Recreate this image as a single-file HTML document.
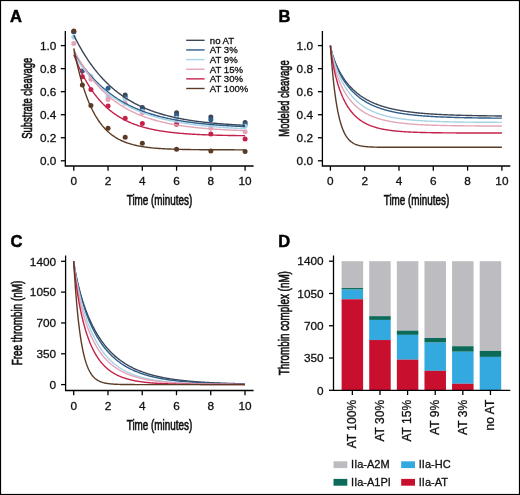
<!DOCTYPE html>
<html><head><meta charset="utf-8"><style>
html,body{margin:0;padding:0;background:#fff;}
body{width:520px;height:495px;overflow:hidden;}
svg{display:block;will-change:transform;}
text{font-family:"Liberation Sans", sans-serif;fill:#111;stroke:#111;stroke-width:0.3px;}
.tl{font-size:11.8px;}
.tt{font-size:14.2px;stroke-width:0.65px;}
.pl{font-size:16.5px;font-weight:bold;fill:#000;stroke:#000;stroke-width:0.5px;}
.lg{font-size:9.6px;}
.lg2{font-size:11px;}
</style></head><body>
<svg width="520" height="495" viewBox="0 0 520 495">
<rect x="0" y="0" width="520" height="495" fill="#fff"/>
<text x="10" y="22.2" class="pl">A</text>
<path d="M65.3,31 V166 H253.6" fill="none" stroke="#000" stroke-width="1.3"/>
<line x1="60.80" y1="160.80" x2="65.3" y2="160.80" stroke="#000" stroke-width="1.3"/>
<text x="56.40" y="165.00" text-anchor="end" class="tl">0.0</text>
<line x1="60.80" y1="137.76" x2="65.3" y2="137.76" stroke="#000" stroke-width="1.3"/>
<text x="56.40" y="141.96" text-anchor="end" class="tl">0.2</text>
<line x1="60.80" y1="114.72" x2="65.3" y2="114.72" stroke="#000" stroke-width="1.3"/>
<text x="56.40" y="118.92" text-anchor="end" class="tl">0.4</text>
<line x1="60.80" y1="91.68" x2="65.3" y2="91.68" stroke="#000" stroke-width="1.3"/>
<text x="56.40" y="95.88" text-anchor="end" class="tl">0.6</text>
<line x1="60.80" y1="68.64" x2="65.3" y2="68.64" stroke="#000" stroke-width="1.3"/>
<text x="56.40" y="72.84" text-anchor="end" class="tl">0.8</text>
<line x1="60.80" y1="45.60" x2="65.3" y2="45.60" stroke="#000" stroke-width="1.3"/>
<text x="56.40" y="49.80" text-anchor="end" class="tl">1.0</text>
<line x1="73.80" y1="166" x2="73.80" y2="170.70" stroke="#000" stroke-width="1.3"/>
<text x="73.80" y="185.20" text-anchor="middle" class="tl">0</text>
<line x1="108.06" y1="166" x2="108.06" y2="170.70" stroke="#000" stroke-width="1.3"/>
<text x="108.06" y="185.20" text-anchor="middle" class="tl">2</text>
<line x1="142.32" y1="166" x2="142.32" y2="170.70" stroke="#000" stroke-width="1.3"/>
<text x="142.32" y="185.20" text-anchor="middle" class="tl">4</text>
<line x1="176.58" y1="166" x2="176.58" y2="170.70" stroke="#000" stroke-width="1.3"/>
<text x="176.58" y="185.20" text-anchor="middle" class="tl">6</text>
<line x1="210.84" y1="166" x2="210.84" y2="170.70" stroke="#000" stroke-width="1.3"/>
<text x="210.84" y="185.20" text-anchor="middle" class="tl">8</text>
<line x1="245.10" y1="166" x2="245.10" y2="170.70" stroke="#000" stroke-width="1.3"/>
<text x="245.10" y="185.20" text-anchor="middle" class="tl">10</text>
<text transform="translate(32.00,98.30) rotate(-90)" text-anchor="middle" class="tt" textLength="81" lengthAdjust="spacingAndGlyphs">Substrate cleavage</text>
<text x="159.50" y="205.40" text-anchor="middle" class="tt" textLength="65.5" lengthAdjust="spacingAndGlyphs">Time (minutes)</text>
<circle cx="73.80" cy="31.78" r="2.5" fill="#3c4658"/>
<circle cx="125.19" cy="94.91" r="2.5" fill="#3c4658"/>
<circle cx="142.32" cy="107.58" r="2.5" fill="#3c4658"/>
<circle cx="176.58" cy="112.65" r="2.5" fill="#3c4658"/>
<circle cx="210.84" cy="117.02" r="2.5" fill="#3c4658"/>
<circle cx="245.10" cy="122.55" r="2.5" fill="#3c4658"/>
<circle cx="73.80" cy="31.78" r="2.5" fill="#2d5d88"/>
<circle cx="82.36" cy="70.94" r="2.5" fill="#2d5d88"/>
<circle cx="108.06" cy="88.22" r="2.5" fill="#2d5d88"/>
<circle cx="125.19" cy="97.44" r="2.5" fill="#2d5d88"/>
<circle cx="142.32" cy="108.96" r="2.5" fill="#2d5d88"/>
<circle cx="176.58" cy="115.18" r="2.5" fill="#2d5d88"/>
<circle cx="210.84" cy="119.79" r="2.5" fill="#2d5d88"/>
<circle cx="245.10" cy="124.51" r="2.5" fill="#2d5d88"/>
<circle cx="73.80" cy="36.96" r="2.5" fill="#a6d3e6"/>
<circle cx="90.93" cy="76.13" r="2.5" fill="#a6d3e6"/>
<circle cx="108.06" cy="96.75" r="2.5" fill="#a6d3e6"/>
<circle cx="125.19" cy="99.17" r="2.5" fill="#a6d3e6"/>
<circle cx="142.32" cy="111.49" r="2.5" fill="#a6d3e6"/>
<circle cx="176.58" cy="118.18" r="2.5" fill="#a6d3e6"/>
<circle cx="210.84" cy="125.55" r="2.5" fill="#a6d3e6"/>
<circle cx="245.10" cy="126.24" r="2.5" fill="#a6d3e6"/>
<circle cx="73.80" cy="43.41" r="2.5" fill="#e3a5b8"/>
<circle cx="90.93" cy="79.35" r="2.5" fill="#e3a5b8"/>
<circle cx="108.06" cy="99.40" r="2.5" fill="#e3a5b8"/>
<circle cx="125.19" cy="103.20" r="2.5" fill="#e3a5b8"/>
<circle cx="142.32" cy="112.65" r="2.5" fill="#e3a5b8"/>
<circle cx="176.58" cy="122.78" r="2.5" fill="#e3a5b8"/>
<circle cx="210.84" cy="128.31" r="2.5" fill="#e3a5b8"/>
<circle cx="245.10" cy="131.77" r="2.5" fill="#e3a5b8"/>
<circle cx="82.36" cy="76.70" r="2.5" fill="#c4224a"/>
<circle cx="90.93" cy="89.38" r="2.5" fill="#c4224a"/>
<circle cx="108.06" cy="106.08" r="2.5" fill="#c4224a"/>
<circle cx="125.19" cy="118.18" r="2.5" fill="#c4224a"/>
<circle cx="142.32" cy="123.59" r="2.5" fill="#c4224a"/>
<circle cx="176.58" cy="124.17" r="2.5" fill="#c4224a"/>
<circle cx="210.84" cy="133.96" r="2.5" fill="#c4224a"/>
<circle cx="245.10" cy="138.91" r="2.5" fill="#c4224a"/>
<circle cx="73.80" cy="30.97" r="2.5" fill="#5a3c26"/>
<circle cx="82.36" cy="85.11" r="2.5" fill="#5a3c26"/>
<circle cx="90.93" cy="105.62" r="2.5" fill="#5a3c26"/>
<circle cx="108.06" cy="128.20" r="2.5" fill="#5a3c26"/>
<circle cx="125.19" cy="137.30" r="2.5" fill="#5a3c26"/>
<circle cx="142.32" cy="143.29" r="2.5" fill="#5a3c26"/>
<circle cx="176.58" cy="149.28" r="2.5" fill="#5a3c26"/>
<circle cx="210.84" cy="150.89" r="2.5" fill="#5a3c26"/>
<circle cx="245.10" cy="151.58" r="2.5" fill="#5a3c26"/>
<path d="M73.80,35.23 L74.66,36.96 L75.51,38.65 L76.37,40.31 L77.23,41.94 L78.08,43.54 L78.94,45.11 L79.80,46.65 L80.65,48.16 L81.51,49.65 L82.36,51.10 L83.22,52.53 L84.08,53.93 L84.93,55.31 L85.79,56.66 L86.65,57.98 L87.50,59.28 L88.36,60.56 L89.22,61.81 L90.07,63.04 L90.93,64.24 L91.79,65.42 L92.64,66.58 L93.50,67.72 L94.36,68.84 L95.21,69.94 L96.07,71.01 L96.93,72.07 L97.78,73.10 L98.64,74.12 L99.50,75.12 L100.35,76.10 L101.21,77.06 L102.06,78.00 L102.92,78.92 L103.78,79.83 L104.63,80.72 L105.49,81.59 L106.35,82.45 L107.20,83.29 L108.06,84.12 L108.92,84.93 L109.77,85.72 L110.63,86.50 L111.49,87.27 L112.34,88.02 L113.20,88.76 L114.06,89.48 L114.91,90.19 L115.77,90.89 L116.62,91.57 L117.48,92.24 L118.34,92.90 L119.19,93.55 L120.05,94.18 L120.91,94.80 L121.76,95.41 L122.62,96.01 L123.48,96.60 L124.33,97.17 L125.19,97.74 L126.05,98.30 L126.90,98.84 L127.76,99.37 L128.62,99.90 L129.47,100.41 L130.33,100.92 L131.19,101.41 L132.04,101.90 L132.90,102.38 L133.75,102.85 L134.61,103.31 L135.47,103.76 L136.32,104.20 L137.18,104.63 L138.04,105.06 L138.89,105.48 L139.75,105.89 L140.61,106.29 L141.46,106.69 L142.32,107.07 L143.18,107.45 L144.03,107.83 L144.89,108.19 L145.75,108.55 L146.60,108.91 L147.46,109.25 L148.32,109.59 L149.17,109.92 L150.03,110.25 L150.88,110.57 L151.74,110.89 L152.60,111.20 L153.45,111.50 L154.31,111.80 L155.17,112.09 L156.02,112.38 L156.88,112.66 L157.74,112.93 L158.59,113.20 L159.45,113.47 L160.31,113.73 L161.16,113.99 L162.02,114.24 L162.88,114.48 L163.73,114.72 L164.59,114.96 L165.45,115.19 L166.30,115.42 L167.16,115.65 L168.01,115.87 L168.87,116.08 L169.73,116.29 L170.58,116.50 L171.44,116.71 L172.30,116.91 L173.15,117.10 L174.01,117.30 L174.87,117.48 L175.72,117.67 L176.58,117.85 L177.44,118.03 L178.29,118.21 L179.15,118.38 L180.01,118.55 L180.86,118.71 L181.72,118.87 L182.58,119.03 L183.43,119.19 L184.29,119.34 L185.14,119.49 L186.00,119.64 L186.86,119.79 L187.71,119.93 L188.57,120.07 L189.43,120.21 L190.28,120.34 L191.14,120.47 L192.00,120.60 L192.85,120.73 L193.71,120.85 L194.57,120.98 L195.42,121.10 L196.28,121.22 L197.14,121.33 L197.99,121.44 L198.85,121.56 L199.71,121.66 L200.56,121.77 L201.42,121.88 L202.27,121.98 L203.13,122.08 L203.99,122.18 L204.84,122.28 L205.70,122.37 L206.56,122.47 L207.41,122.56 L208.27,122.65 L209.13,122.74 L209.98,122.83 L210.84,122.91 L211.70,123.00 L212.55,123.08 L213.41,123.16 L214.27,123.24 L215.12,123.32 L215.98,123.39 L216.84,123.47 L217.69,123.54 L218.55,123.61 L219.40,123.68 L220.26,123.75 L221.12,123.82 L221.97,123.89 L222.83,123.95 L223.69,124.02 L224.54,124.08 L225.40,124.14 L226.26,124.20 L227.11,124.26 L227.97,124.32 L228.83,124.38 L229.68,124.44 L230.54,124.49 L231.40,124.55 L232.25,124.60 L233.11,124.65 L233.97,124.70 L234.82,124.75 L235.68,124.80 L236.53,124.85 L237.39,124.90 L238.25,124.95 L239.10,124.99 L239.96,125.04 L240.82,125.08 L241.67,125.12 L242.53,125.17 L243.39,125.21 L244.24,125.25 L245.10,125.29" fill="none" stroke="#3c4658" stroke-width="1.4"/>
<path d="M73.80,52.51 L74.66,53.90 L75.51,55.26 L76.37,56.59 L77.23,57.90 L78.08,59.19 L78.94,60.45 L79.80,61.69 L80.65,62.91 L81.51,64.10 L82.36,65.27 L83.22,66.43 L84.08,67.56 L84.93,68.67 L85.79,69.76 L86.65,70.83 L87.50,71.88 L88.36,72.91 L89.22,73.92 L90.07,74.92 L90.93,75.89 L91.79,76.85 L92.64,77.79 L93.50,78.72 L94.36,79.63 L95.21,80.52 L96.07,81.39 L96.93,82.25 L97.78,83.09 L98.64,83.92 L99.50,84.73 L100.35,85.53 L101.21,86.31 L102.06,87.08 L102.92,87.84 L103.78,88.58 L104.63,89.31 L105.49,90.02 L106.35,90.72 L107.20,91.41 L108.06,92.09 L108.92,92.75 L109.77,93.40 L110.63,94.04 L111.49,94.67 L112.34,95.29 L113.20,95.89 L114.06,96.49 L114.91,97.07 L115.77,97.64 L116.62,98.21 L117.48,98.76 L118.34,99.30 L119.19,99.83 L120.05,100.36 L120.91,100.87 L121.76,101.37 L122.62,101.87 L123.48,102.35 L124.33,102.83 L125.19,103.30 L126.05,103.76 L126.90,104.21 L127.76,104.65 L128.62,105.09 L129.47,105.51 L130.33,105.93 L131.19,106.35 L132.04,106.75 L132.90,107.15 L133.75,107.54 L134.61,107.92 L135.47,108.29 L136.32,108.66 L137.18,109.02 L138.04,109.38 L138.89,109.73 L139.75,110.07 L140.61,110.41 L141.46,110.74 L142.32,111.06 L143.18,111.38 L144.03,111.69 L144.89,112.00 L145.75,112.30 L146.60,112.60 L147.46,112.89 L148.32,113.17 L149.17,113.45 L150.03,113.73 L150.88,114.00 L151.74,114.26 L152.60,114.52 L153.45,114.78 L154.31,115.03 L155.17,115.27 L156.02,115.52 L156.88,115.75 L157.74,115.99 L158.59,116.21 L159.45,116.44 L160.31,116.66 L161.16,116.88 L162.02,117.09 L162.88,117.30 L163.73,117.50 L164.59,117.70 L165.45,117.90 L166.30,118.09 L167.16,118.28 L168.01,118.47 L168.87,118.65 L169.73,118.83 L170.58,119.01 L171.44,119.18 L172.30,119.35 L173.15,119.52 L174.01,119.69 L174.87,119.85 L175.72,120.01 L176.58,120.16 L177.44,120.31 L178.29,120.46 L179.15,120.61 L180.01,120.76 L180.86,120.90 L181.72,121.04 L182.58,121.17 L183.43,121.31 L184.29,121.44 L185.14,121.57 L186.00,121.70 L186.86,121.82 L187.71,121.94 L188.57,122.06 L189.43,122.18 L190.28,122.30 L191.14,122.41 L192.00,122.52 L192.85,122.63 L193.71,122.74 L194.57,122.85 L195.42,122.95 L196.28,123.05 L197.14,123.15 L197.99,123.25 L198.85,123.35 L199.71,123.44 L200.56,123.53 L201.42,123.62 L202.27,123.71 L203.13,123.80 L203.99,123.89 L204.84,123.97 L205.70,124.06 L206.56,124.14 L207.41,124.22 L208.27,124.30 L209.13,124.37 L209.98,124.45 L210.84,124.52 L211.70,124.60 L212.55,124.67 L213.41,124.74 L214.27,124.81 L215.12,124.88 L215.98,124.94 L216.84,125.01 L217.69,125.07 L218.55,125.14 L219.40,125.20 L220.26,125.26 L221.12,125.32 L221.97,125.38 L222.83,125.44 L223.69,125.49 L224.54,125.55 L225.40,125.60 L226.26,125.66 L227.11,125.71 L227.97,125.76 L228.83,125.81 L229.68,125.86 L230.54,125.91 L231.40,125.96 L232.25,126.00 L233.11,126.05 L233.97,126.10 L234.82,126.14 L235.68,126.18 L236.53,126.23 L237.39,126.27 L238.25,126.31 L239.10,126.35 L239.96,126.39 L240.82,126.43 L241.67,126.47 L242.53,126.51 L243.39,126.54 L244.24,126.58 L245.10,126.62" fill="none" stroke="#2d5d88" stroke-width="1.4"/>
<path d="M73.80,54.82 L74.66,56.16 L75.51,57.48 L76.37,58.78 L77.23,60.06 L78.08,61.31 L78.94,62.54 L79.80,63.75 L80.65,64.93 L81.51,66.10 L82.36,67.25 L83.22,68.37 L84.08,69.48 L84.93,70.56 L85.79,71.63 L86.65,72.68 L87.50,73.71 L88.36,74.72 L89.22,75.71 L90.07,76.68 L90.93,77.64 L91.79,78.58 L92.64,79.51 L93.50,80.42 L94.36,81.31 L95.21,82.19 L96.07,83.05 L96.93,83.89 L97.78,84.72 L98.64,85.54 L99.50,86.34 L100.35,87.13 L101.21,87.90 L102.06,88.66 L102.92,89.41 L103.78,90.14 L104.63,90.86 L105.49,91.57 L106.35,92.26 L107.20,92.95 L108.06,93.62 L108.92,94.28 L109.77,94.92 L110.63,95.56 L111.49,96.18 L112.34,96.80 L113.20,97.40 L114.06,97.99 L114.91,98.57 L115.77,99.14 L116.62,99.70 L117.48,100.25 L118.34,100.80 L119.19,101.33 L120.05,101.85 L120.91,102.36 L121.76,102.87 L122.62,103.36 L123.48,103.85 L124.33,104.33 L125.19,104.79 L126.05,105.26 L126.90,105.71 L127.76,106.15 L128.62,106.59 L129.47,107.02 L130.33,107.44 L131.19,107.85 L132.04,108.26 L132.90,108.66 L133.75,109.05 L134.61,109.44 L135.47,109.82 L136.32,110.19 L137.18,110.56 L138.04,110.91 L138.89,111.27 L139.75,111.61 L140.61,111.95 L141.46,112.29 L142.32,112.62 L143.18,112.94 L144.03,113.26 L144.89,113.57 L145.75,113.87 L146.60,114.17 L147.46,114.47 L148.32,114.76 L149.17,115.04 L150.03,115.32 L150.88,115.60 L151.74,115.87 L152.60,116.13 L153.45,116.39 L154.31,116.65 L155.17,116.90 L156.02,117.15 L156.88,117.39 L157.74,117.63 L158.59,117.86 L159.45,118.09 L160.31,118.32 L161.16,118.54 L162.02,118.76 L162.88,118.97 L163.73,119.18 L164.59,119.39 L165.45,119.59 L166.30,119.79 L167.16,119.98 L168.01,120.18 L168.87,120.36 L169.73,120.55 L170.58,120.73 L171.44,120.91 L172.30,121.09 L173.15,121.26 L174.01,121.43 L174.87,121.60 L175.72,121.76 L176.58,121.92 L177.44,122.08 L178.29,122.23 L179.15,122.39 L180.01,122.54 L180.86,122.68 L181.72,122.83 L182.58,122.97 L183.43,123.11 L184.29,123.25 L185.14,123.38 L186.00,123.51 L186.86,123.64 L187.71,123.77 L188.57,123.89 L189.43,124.02 L190.28,124.14 L191.14,124.26 L192.00,124.37 L192.85,124.49 L193.71,124.60 L194.57,124.71 L195.42,124.82 L196.28,124.93 L197.14,125.03 L197.99,125.13 L198.85,125.24 L199.71,125.33 L200.56,125.43 L201.42,125.53 L202.27,125.62 L203.13,125.71 L203.99,125.81 L204.84,125.89 L205.70,125.98 L206.56,126.07 L207.41,126.15 L208.27,126.24 L209.13,126.32 L209.98,126.40 L210.84,126.48 L211.70,126.55 L212.55,126.63 L213.41,126.70 L214.27,126.78 L215.12,126.85 L215.98,126.92 L216.84,126.99 L217.69,127.06 L218.55,127.13 L219.40,127.19 L220.26,127.26 L221.12,127.32 L221.97,127.38 L222.83,127.44 L223.69,127.50 L224.54,127.56 L225.40,127.62 L226.26,127.68 L227.11,127.73 L227.97,127.79 L228.83,127.84 L229.68,127.90 L230.54,127.95 L231.40,128.00 L232.25,128.05 L233.11,128.10 L233.97,128.15 L234.82,128.20 L235.68,128.24 L236.53,128.29 L237.39,128.33 L238.25,128.38 L239.10,128.42 L239.96,128.47 L240.82,128.51 L241.67,128.55 L242.53,128.59 L243.39,128.63 L244.24,128.67 L245.10,128.71" fill="none" stroke="#a6d3e6" stroke-width="1.4"/>
<path d="M73.80,49.75 L74.66,51.41 L75.51,53.05 L76.37,54.65 L77.23,56.22 L78.08,57.75 L78.94,59.26 L79.80,60.73 L80.65,62.17 L81.51,63.59 L82.36,64.98 L83.22,66.33 L84.08,67.67 L84.93,68.97 L85.79,70.25 L86.65,71.50 L87.50,72.72 L88.36,73.93 L89.22,75.10 L90.07,76.26 L90.93,77.39 L91.79,78.49 L92.64,79.58 L93.50,80.64 L94.36,81.68 L95.21,82.70 L96.07,83.70 L96.93,84.68 L97.78,85.64 L98.64,86.58 L99.50,87.50 L100.35,88.40 L101.21,89.28 L102.06,90.15 L102.92,91.00 L103.78,91.83 L104.63,92.64 L105.49,93.44 L106.35,94.22 L107.20,94.99 L108.06,95.74 L108.92,96.47 L109.77,97.19 L110.63,97.90 L111.49,98.59 L112.34,99.27 L113.20,99.93 L114.06,100.58 L114.91,101.22 L115.77,101.84 L116.62,102.45 L117.48,103.05 L118.34,103.64 L119.19,104.21 L120.05,104.77 L120.91,105.33 L121.76,105.87 L122.62,106.40 L123.48,106.92 L124.33,107.42 L125.19,107.92 L126.05,108.41 L126.90,108.89 L127.76,109.36 L128.62,109.82 L129.47,110.27 L130.33,110.71 L131.19,111.14 L132.04,111.56 L132.90,111.97 L133.75,112.38 L134.61,112.78 L135.47,113.17 L136.32,113.55 L137.18,113.92 L138.04,114.29 L138.89,114.65 L139.75,115.00 L140.61,115.34 L141.46,115.68 L142.32,116.01 L143.18,116.34 L144.03,116.65 L144.89,116.97 L145.75,117.27 L146.60,117.57 L147.46,117.86 L148.32,118.15 L149.17,118.43 L150.03,118.70 L150.88,118.97 L151.74,119.24 L152.60,119.50 L153.45,119.75 L154.31,120.00 L155.17,120.24 L156.02,120.48 L156.88,120.71 L157.74,120.94 L158.59,121.17 L159.45,121.38 L160.31,121.60 L161.16,121.81 L162.02,122.02 L162.88,122.22 L163.73,122.42 L164.59,122.61 L165.45,122.80 L166.30,122.99 L167.16,123.17 L168.01,123.35 L168.87,123.53 L169.73,123.70 L170.58,123.87 L171.44,124.03 L172.30,124.19 L173.15,124.35 L174.01,124.51 L174.87,124.66 L175.72,124.81 L176.58,124.95 L177.44,125.09 L178.29,125.23 L179.15,125.37 L180.01,125.51 L180.86,125.64 L181.72,125.77 L182.58,125.89 L183.43,126.02 L184.29,126.14 L185.14,126.26 L186.00,126.37 L186.86,126.49 L187.71,126.60 L188.57,126.71 L189.43,126.82 L190.28,126.92 L191.14,127.02 L192.00,127.12 L192.85,127.22 L193.71,127.32 L194.57,127.41 L195.42,127.51 L196.28,127.60 L197.14,127.69 L197.99,127.78 L198.85,127.86 L199.71,127.94 L200.56,128.03 L201.42,128.11 L202.27,128.19 L203.13,128.26 L203.99,128.34 L204.84,128.41 L205.70,128.49 L206.56,128.56 L207.41,128.63 L208.27,128.70 L209.13,128.76 L209.98,128.83 L210.84,128.89 L211.70,128.96 L212.55,129.02 L213.41,129.08 L214.27,129.14 L215.12,129.19 L215.98,129.25 L216.84,129.31 L217.69,129.36 L218.55,129.42 L219.40,129.47 L220.26,129.52 L221.12,129.57 L221.97,129.62 L222.83,129.67 L223.69,129.71 L224.54,129.76 L225.40,129.81 L226.26,129.85 L227.11,129.89 L227.97,129.94 L228.83,129.98 L229.68,130.02 L230.54,130.06 L231.40,130.10 L232.25,130.14 L233.11,130.18 L233.97,130.21 L234.82,130.25 L235.68,130.28 L236.53,130.32 L237.39,130.35 L238.25,130.39 L239.10,130.42 L239.96,130.45 L240.82,130.48 L241.67,130.51 L242.53,130.54 L243.39,130.57 L244.24,130.60 L245.10,130.63" fill="none" stroke="#e3a5b8" stroke-width="1.4"/>
<path d="M73.80,54.70 L74.66,56.89 L75.51,59.02 L76.37,61.10 L77.23,63.11 L78.08,65.08 L78.94,66.99 L79.80,68.85 L80.65,70.66 L81.51,72.42 L82.36,74.13 L83.22,75.80 L84.08,77.42 L84.93,79.00 L85.79,80.53 L86.65,82.03 L87.50,83.48 L88.36,84.90 L89.22,86.28 L90.07,87.62 L90.93,88.92 L91.79,90.19 L92.64,91.42 L93.50,92.62 L94.36,93.79 L95.21,94.93 L96.07,96.04 L96.93,97.12 L97.78,98.16 L98.64,99.18 L99.50,100.18 L100.35,101.14 L101.21,102.08 L102.06,102.99 L102.92,103.88 L103.78,104.75 L104.63,105.59 L105.49,106.41 L106.35,107.21 L107.20,107.99 L108.06,108.74 L108.92,109.48 L109.77,110.19 L110.63,110.89 L111.49,111.56 L112.34,112.22 L113.20,112.86 L114.06,113.49 L114.91,114.10 L115.77,114.69 L116.62,115.26 L117.48,115.82 L118.34,116.37 L119.19,116.89 L120.05,117.41 L120.91,117.91 L121.76,118.40 L122.62,118.87 L123.48,119.34 L124.33,119.79 L125.19,120.22 L126.05,120.65 L126.90,121.06 L127.76,121.47 L128.62,121.86 L129.47,122.24 L130.33,122.61 L131.19,122.97 L132.04,123.33 L132.90,123.67 L133.75,124.00 L134.61,124.32 L135.47,124.64 L136.32,124.95 L137.18,125.25 L138.04,125.54 L138.89,125.82 L139.75,126.09 L140.61,126.36 L141.46,126.62 L142.32,126.87 L143.18,127.12 L144.03,127.36 L144.89,127.59 L145.75,127.82 L146.60,128.04 L147.46,128.26 L148.32,128.47 L149.17,128.67 L150.03,128.87 L150.88,129.06 L151.74,129.25 L152.60,129.43 L153.45,129.61 L154.31,129.78 L155.17,129.95 L156.02,130.12 L156.88,130.27 L157.74,130.43 L158.59,130.58 L159.45,130.73 L160.31,130.87 L161.16,131.01 L162.02,131.14 L162.88,131.28 L163.73,131.40 L164.59,131.53 L165.45,131.65 L166.30,131.77 L167.16,131.88 L168.01,131.99 L168.87,132.10 L169.73,132.21 L170.58,132.31 L171.44,132.41 L172.30,132.51 L173.15,132.60 L174.01,132.70 L174.87,132.79 L175.72,132.87 L176.58,132.96 L177.44,133.04 L178.29,133.12 L179.15,133.20 L180.01,133.28 L180.86,133.35 L181.72,133.42 L182.58,133.49 L183.43,133.56 L184.29,133.63 L185.14,133.69 L186.00,133.76 L186.86,133.82 L187.71,133.88 L188.57,133.94 L189.43,133.99 L190.28,134.05 L191.14,134.10 L192.00,134.15 L192.85,134.20 L193.71,134.25 L194.57,134.30 L195.42,134.35 L196.28,134.39 L197.14,134.44 L197.99,134.48 L198.85,134.52 L199.71,134.56 L200.56,134.60 L201.42,134.64 L202.27,134.68 L203.13,134.71 L203.99,134.75 L204.84,134.78 L205.70,134.82 L206.56,134.85 L207.41,134.88 L208.27,134.91 L209.13,134.94 L209.98,134.97 L210.84,135.00 L211.70,135.03 L212.55,135.06 L213.41,135.08 L214.27,135.11 L215.12,135.13 L215.98,135.16 L216.84,135.18 L217.69,135.20 L218.55,135.23 L219.40,135.25 L220.26,135.27 L221.12,135.29 L221.97,135.31 L222.83,135.33 L223.69,135.35 L224.54,135.37 L225.40,135.38 L226.26,135.40 L227.11,135.42 L227.97,135.43 L228.83,135.45 L229.68,135.47 L230.54,135.48 L231.40,135.50 L232.25,135.51 L233.11,135.53 L233.97,135.54 L234.82,135.55 L235.68,135.56 L236.53,135.58 L237.39,135.59 L238.25,135.60 L239.10,135.61 L239.96,135.62 L240.82,135.64 L241.67,135.65 L242.53,135.66 L243.39,135.67 L244.24,135.68 L245.10,135.69" fill="none" stroke="#c4224a" stroke-width="1.4"/>
<path d="M73.80,48.48 L74.66,52.75 L75.51,56.84 L76.37,60.76 L77.23,64.52 L78.08,68.11 L78.94,71.56 L79.80,74.86 L80.65,78.02 L81.51,81.04 L82.36,83.94 L83.22,86.72 L84.08,89.38 L84.93,91.93 L85.79,94.37 L86.65,96.71 L87.50,98.95 L88.36,101.09 L89.22,103.15 L90.07,105.12 L90.93,107.00 L91.79,108.81 L92.64,110.54 L93.50,112.19 L94.36,113.78 L95.21,115.30 L96.07,116.76 L96.93,118.15 L97.78,119.49 L98.64,120.77 L99.50,121.99 L100.35,123.17 L101.21,124.29 L102.06,125.37 L102.92,126.40 L103.78,127.39 L104.63,128.33 L105.49,129.24 L106.35,130.11 L107.20,130.94 L108.06,131.74 L108.92,132.50 L109.77,133.23 L110.63,133.93 L111.49,134.61 L112.34,135.25 L113.20,135.86 L114.06,136.45 L114.91,137.02 L115.77,137.56 L116.62,138.08 L117.48,138.57 L118.34,139.05 L119.19,139.50 L120.05,139.94 L120.91,140.36 L121.76,140.76 L122.62,141.14 L123.48,141.51 L124.33,141.86 L125.19,142.20 L126.05,142.52 L126.90,142.83 L127.76,143.13 L128.62,143.41 L129.47,143.68 L130.33,143.94 L131.19,144.19 L132.04,144.43 L132.90,144.66 L133.75,144.88 L134.61,145.09 L135.47,145.29 L136.32,145.48 L137.18,145.66 L138.04,145.84 L138.89,146.01 L139.75,146.17 L140.61,146.33 L141.46,146.48 L142.32,146.62 L143.18,146.75 L144.03,146.89 L144.89,147.01 L145.75,147.13 L146.60,147.25 L147.46,147.36 L148.32,147.46 L149.17,147.56 L150.03,147.66 L150.88,147.75 L151.74,147.84 L152.60,147.92 L153.45,148.01 L154.31,148.08 L155.17,148.16 L156.02,148.23 L156.88,148.30 L157.74,148.36 L158.59,148.43 L159.45,148.49 L160.31,148.55 L161.16,148.60 L162.02,148.65 L162.88,148.70 L163.73,148.75 L164.59,148.80 L165.45,148.84 L166.30,148.89 L167.16,148.93 L168.01,148.97 L168.87,149.00 L169.73,149.04 L170.58,149.07 L171.44,149.11 L172.30,149.14 L173.15,149.17 L174.01,149.20 L174.87,149.23 L175.72,149.25 L176.58,149.28 L177.44,149.30 L178.29,149.33 L179.15,149.35 L180.01,149.37 L180.86,149.39 L181.72,149.41 L182.58,149.43 L183.43,149.45 L184.29,149.46 L185.14,149.48 L186.00,149.50 L186.86,149.51 L187.71,149.53 L188.57,149.54 L189.43,149.55 L190.28,149.57 L191.14,149.58 L192.00,149.59 L192.85,149.60 L193.71,149.61 L194.57,149.62 L195.42,149.63 L196.28,149.64 L197.14,149.65 L197.99,149.66 L198.85,149.67 L199.71,149.68 L200.56,149.68 L201.42,149.69 L202.27,149.70 L203.13,149.70 L203.99,149.71 L204.84,149.72 L205.70,149.72 L206.56,149.73 L207.41,149.73 L208.27,149.74 L209.13,149.74 L209.98,149.75 L210.84,149.75 L211.70,149.76 L212.55,149.76 L213.41,149.77 L214.27,149.77 L215.12,149.77 L215.98,149.78 L216.84,149.78 L217.69,149.78 L218.55,149.79 L219.40,149.79 L220.26,149.79 L221.12,149.79 L221.97,149.80 L222.83,149.80 L223.69,149.80 L224.54,149.80 L225.40,149.81 L226.26,149.81 L227.11,149.81 L227.97,149.81 L228.83,149.81 L229.68,149.82 L230.54,149.82 L231.40,149.82 L232.25,149.82 L233.11,149.82 L233.97,149.82 L234.82,149.83 L235.68,149.83 L236.53,149.83 L237.39,149.83 L238.25,149.83 L239.10,149.83 L239.96,149.83 L240.82,149.83 L241.67,149.83 L242.53,149.83 L243.39,149.84 L244.24,149.84 L245.10,149.84" fill="none" stroke="#5a3c26" stroke-width="1.4"/>
<line x1="186.2" y1="40.30" x2="204.6" y2="40.30" stroke="#3c4658" stroke-width="1.4"/>
<text x="209.8" y="43.70" class="lg">no AT</text>
<line x1="186.2" y1="49.94" x2="204.6" y2="49.94" stroke="#2d5d88" stroke-width="1.4"/>
<text x="209.8" y="53.34" class="lg">AT 3%</text>
<line x1="186.2" y1="59.58" x2="204.6" y2="59.58" stroke="#a6d3e6" stroke-width="1.4"/>
<text x="209.8" y="62.98" class="lg">AT 9%</text>
<line x1="186.2" y1="69.22" x2="204.6" y2="69.22" stroke="#e3a5b8" stroke-width="1.4"/>
<text x="209.8" y="72.62" class="lg">AT 15%</text>
<line x1="186.2" y1="78.86" x2="204.6" y2="78.86" stroke="#c4224a" stroke-width="1.4"/>
<text x="209.8" y="82.26" class="lg">AT 30%</text>
<line x1="186.2" y1="88.50" x2="204.6" y2="88.50" stroke="#5a3c26" stroke-width="1.4"/>
<text x="209.8" y="91.90" class="lg">AT 100%</text>
<text x="278.5" y="21.9" class="pl">B</text>
<path d="M322.4,31 V166 H510.3" fill="none" stroke="#000" stroke-width="1.3"/>
<line x1="317.90" y1="160.80" x2="322.4" y2="160.80" stroke="#000" stroke-width="1.3"/>
<text x="313.00" y="165.00" text-anchor="end" class="tl">0.0</text>
<line x1="317.90" y1="137.76" x2="322.4" y2="137.76" stroke="#000" stroke-width="1.3"/>
<text x="313.00" y="141.96" text-anchor="end" class="tl">0.2</text>
<line x1="317.90" y1="114.72" x2="322.4" y2="114.72" stroke="#000" stroke-width="1.3"/>
<text x="313.00" y="118.92" text-anchor="end" class="tl">0.4</text>
<line x1="317.90" y1="91.68" x2="322.4" y2="91.68" stroke="#000" stroke-width="1.3"/>
<text x="313.00" y="95.88" text-anchor="end" class="tl">0.6</text>
<line x1="317.90" y1="68.64" x2="322.4" y2="68.64" stroke="#000" stroke-width="1.3"/>
<text x="313.00" y="72.84" text-anchor="end" class="tl">0.8</text>
<line x1="317.90" y1="45.60" x2="322.4" y2="45.60" stroke="#000" stroke-width="1.3"/>
<text x="313.00" y="49.80" text-anchor="end" class="tl">1.0</text>
<line x1="330.40" y1="166" x2="330.40" y2="170.70" stroke="#000" stroke-width="1.3"/>
<text x="330.40" y="185.20" text-anchor="middle" class="tl">0</text>
<line x1="364.70" y1="166" x2="364.70" y2="170.70" stroke="#000" stroke-width="1.3"/>
<text x="364.70" y="185.20" text-anchor="middle" class="tl">2</text>
<line x1="399.00" y1="166" x2="399.00" y2="170.70" stroke="#000" stroke-width="1.3"/>
<text x="399.00" y="185.20" text-anchor="middle" class="tl">4</text>
<line x1="433.30" y1="166" x2="433.30" y2="170.70" stroke="#000" stroke-width="1.3"/>
<text x="433.30" y="185.20" text-anchor="middle" class="tl">6</text>
<line x1="467.60" y1="166" x2="467.60" y2="170.70" stroke="#000" stroke-width="1.3"/>
<text x="467.60" y="185.20" text-anchor="middle" class="tl">8</text>
<line x1="501.90" y1="166" x2="501.90" y2="170.70" stroke="#000" stroke-width="1.3"/>
<text x="501.90" y="185.20" text-anchor="middle" class="tl">10</text>
<text transform="translate(288.60,98.50) rotate(-90)" text-anchor="middle" class="tt" textLength="76.4" lengthAdjust="spacingAndGlyphs">Modeled cleavage</text>
<text x="416.50" y="205.40" text-anchor="middle" class="tt" textLength="65.5" lengthAdjust="spacingAndGlyphs">Time (minutes)</text>
<path d="M330.40,45.60 L330.97,48.81 L331.54,50.99 L332.11,53.16 L332.69,55.15 L333.26,56.77 L333.83,58.51 L334.40,60.16 L334.97,61.51 L335.54,63.01 L336.12,64.44 L336.69,65.61 L337.26,66.93 L337.83,68.21 L338.40,69.24 L338.97,70.43 L339.55,71.57 L340.12,72.50 L340.69,73.57 L341.26,74.61 L341.83,75.44 L342.40,76.42 L342.98,77.37 L343.55,78.13 L344.12,79.02 L344.69,79.89 L345.26,80.58 L345.83,81.40 L346.41,82.20 L346.98,82.84 L347.55,83.60 L348.12,84.33 L348.69,84.92 L349.26,85.62 L349.84,86.30 L350.41,86.84 L350.98,87.49 L351.55,88.12 L352.12,88.62 L352.69,89.23 L353.27,89.81 L353.84,90.28 L354.41,90.84 L354.98,91.38 L355.55,91.81 L356.12,92.33 L356.70,92.84 L357.27,93.24 L357.84,93.73 L358.41,94.21 L358.98,94.58 L359.55,95.03 L360.13,95.48 L360.70,95.82 L361.27,96.25 L361.84,96.66 L362.41,96.99 L362.98,97.39 L363.56,97.77 L364.13,98.08 L364.70,98.45 L365.27,98.81 L365.84,99.10 L366.41,99.45 L366.99,99.79 L367.56,100.05 L368.13,100.38 L368.70,100.70 L369.27,100.95 L369.84,101.26 L370.42,101.56 L370.99,101.79 L371.56,102.08 L372.13,102.36 L372.70,102.58 L373.27,102.85 L373.85,103.12 L374.42,103.32 L374.99,103.58 L375.56,103.83 L376.13,104.02 L376.70,104.26 L377.28,104.50 L377.85,104.68 L378.42,104.91 L378.99,105.13 L379.56,105.30 L380.13,105.51 L380.71,105.72 L381.28,105.88 L381.85,106.08 L382.42,106.28 L382.99,106.43 L383.56,106.62 L384.14,106.81 L384.71,106.95 L385.28,107.13 L385.85,107.30 L386.42,107.44 L386.99,107.61 L387.57,107.77 L388.14,107.90 L388.71,108.06 L389.28,108.21 L389.85,108.33 L390.42,108.48 L391.00,108.63 L391.57,108.74 L392.14,108.89 L392.71,109.03 L393.28,109.13 L393.85,109.27 L394.43,109.40 L395.00,109.50 L395.57,109.63 L396.14,109.75 L396.71,109.85 L397.28,109.97 L397.86,110.09 L398.43,110.17 L399.00,110.29 L399.57,110.40 L400.14,110.48 L400.71,110.59 L401.29,110.70 L401.86,110.78 L402.43,110.88 L403.00,110.98 L403.57,111.06 L404.14,111.15 L404.72,111.25 L405.29,111.32 L405.86,111.41 L406.43,111.50 L407.00,111.57 L407.57,111.65 L408.15,111.74 L408.72,111.80 L409.29,111.89 L409.86,111.97 L410.43,112.03 L411.00,112.11 L411.58,112.18 L412.15,112.24 L412.72,112.31 L413.29,112.39 L413.86,112.44 L414.43,112.51 L415.01,112.58 L415.58,112.63 L416.15,112.70 L416.72,112.76 L417.29,112.81 L417.86,112.87 L418.44,112.94 L419.01,112.98 L419.58,113.04 L420.15,113.10 L420.72,113.14 L421.29,113.20 L421.87,113.26 L422.44,113.30 L423.01,113.35 L423.58,113.41 L424.15,113.44 L424.72,113.50 L425.30,113.55 L425.87,113.58 L426.44,113.63 L427.01,113.68 L427.58,113.72 L428.15,113.76 L428.73,113.81 L429.30,113.84 L429.87,113.88 L430.44,113.93 L431.01,113.96 L431.58,114.00 L432.16,114.04 L432.73,114.07 L433.30,114.11 L433.87,114.15 L434.44,114.18 L435.01,114.22 L435.59,114.25 L436.16,114.28 L436.73,114.32 L437.30,114.35 L437.87,114.38 L438.44,114.41 L439.02,114.45 L439.59,114.47 L440.16,114.50 L440.73,114.54 L441.30,114.56 L441.88,114.59 L442.45,114.62 L443.02,114.64 L443.59,114.67 L444.16,114.70 L444.73,114.72 L445.30,114.75 L445.88,114.78 L446.45,114.80 L447.02,114.82 L447.59,114.85 L448.16,114.87 L448.73,114.89 L449.31,114.92 L449.88,114.94 L450.45,114.96 L451.02,114.98 L451.59,115.00 L452.16,115.02 L452.74,115.05 L453.31,115.06 L453.88,115.08 L454.45,115.11 L455.02,115.12 L455.59,115.14 L456.17,115.16 L456.74,115.18 L457.31,115.20 L457.88,115.22 L458.45,115.23 L459.02,115.25 L459.60,115.27 L460.17,115.28 L460.74,115.30 L461.31,115.32 L461.88,115.33 L462.45,115.35 L463.03,115.36 L463.60,115.38 L464.17,115.39 L464.74,115.41 L465.31,115.42 L465.88,115.43 L466.46,115.45 L467.03,115.46 L467.60,115.48 L468.17,115.49 L468.74,115.50 L469.31,115.51 L469.89,115.53 L470.46,115.54 L471.03,115.55 L471.60,115.57 L472.17,115.57 L472.75,115.59 L473.32,115.60 L473.89,115.61 L474.46,115.62 L475.03,115.63 L475.60,115.64 L476.17,115.65 L476.75,115.66 L477.32,115.67 L477.89,115.68 L478.46,115.69 L479.03,115.70 L479.60,115.71 L480.18,115.72 L480.75,115.73 L481.32,115.74 L481.89,115.75 L482.46,115.76 L483.03,115.77 L483.61,115.78 L484.18,115.78 L484.75,115.79 L485.32,115.80 L485.89,115.81 L486.46,115.82 L487.04,115.83 L487.61,115.83 L488.18,115.84 L488.75,115.85 L489.32,115.85 L489.89,115.86 L490.47,115.87 L491.04,115.88 L491.61,115.88 L492.18,115.89 L492.75,115.90 L493.32,115.90 L493.90,115.91 L494.47,115.92 L495.04,115.92 L495.61,115.93 L496.18,115.93 L496.75,115.94 L497.33,115.95 L497.90,115.95 L498.47,115.96 L499.04,115.96 L499.61,115.97 L500.18,115.97 L500.76,115.98 L501.33,115.98 L501.90,115.99" fill="none" stroke="#3c4658" stroke-width="1.4"/>
<path d="M330.40,45.60 L330.97,48.88 L331.54,51.16 L332.11,53.43 L332.69,55.51 L333.26,57.23 L333.83,59.07 L334.40,60.81 L334.97,62.24 L335.54,63.83 L336.12,65.35 L336.69,66.60 L337.26,68.00 L337.83,69.35 L338.40,70.45 L338.97,71.71 L339.55,72.92 L340.12,73.91 L340.69,75.04 L341.26,76.14 L341.83,77.04 L342.40,78.07 L342.98,79.07 L343.55,79.88 L344.12,80.82 L344.69,81.74 L345.26,82.48 L345.83,83.35 L346.41,84.19 L346.98,84.86 L347.55,85.66 L348.12,86.43 L348.69,87.06 L349.26,87.79 L349.84,88.51 L350.41,89.08 L350.98,89.76 L351.55,90.42 L352.12,90.95 L352.69,91.58 L353.27,92.19 L353.84,92.68 L354.41,93.26 L354.98,93.83 L355.55,94.28 L356.12,94.83 L356.70,95.35 L357.27,95.77 L357.84,96.28 L358.41,96.77 L358.98,97.16 L359.55,97.63 L360.13,98.09 L360.70,98.45 L361.27,98.89 L361.84,99.31 L362.41,99.65 L362.98,100.06 L363.56,100.46 L364.13,100.77 L364.70,101.15 L365.27,101.53 L365.84,101.82 L366.41,102.18 L366.99,102.52 L367.56,102.80 L368.13,103.13 L368.70,103.46 L369.27,103.71 L369.84,104.02 L370.42,104.33 L370.99,104.57 L371.56,104.86 L372.13,105.15 L372.70,105.37 L373.27,105.64 L373.85,105.91 L374.42,106.12 L374.99,106.38 L375.56,106.63 L376.13,106.82 L376.70,107.06 L377.28,107.30 L377.85,107.48 L378.42,107.71 L378.99,107.93 L379.56,108.10 L380.13,108.32 L380.71,108.52 L381.28,108.68 L381.85,108.88 L382.42,109.08 L382.99,109.23 L383.56,109.42 L384.14,109.60 L384.71,109.74 L385.28,109.92 L385.85,110.09 L386.42,110.23 L386.99,110.39 L387.57,110.55 L388.14,110.68 L388.71,110.84 L389.28,110.99 L389.85,111.11 L390.42,111.25 L391.00,111.40 L391.57,111.51 L392.14,111.65 L392.71,111.78 L393.28,111.89 L393.85,112.02 L394.43,112.14 L395.00,112.24 L395.57,112.36 L396.14,112.49 L396.71,112.58 L397.28,112.69 L397.86,112.81 L398.43,112.89 L399.00,113.00 L399.57,113.11 L400.14,113.19 L400.71,113.29 L401.29,113.40 L401.86,113.47 L402.43,113.57 L403.00,113.66 L403.57,113.74 L404.14,113.83 L404.72,113.92 L405.29,113.99 L405.86,114.07 L406.43,114.16 L407.00,114.22 L407.57,114.30 L408.15,114.38 L408.72,114.45 L409.29,114.52 L409.86,114.60 L410.43,114.66 L411.00,114.73 L411.58,114.80 L412.15,114.85 L412.72,114.92 L413.29,114.99 L413.86,115.04 L414.43,115.11 L415.01,115.17 L415.58,115.22 L416.15,115.28 L416.72,115.34 L417.29,115.39 L417.86,115.44 L418.44,115.50 L419.01,115.54 L419.58,115.60 L420.15,115.65 L420.72,115.69 L421.29,115.74 L421.87,115.80 L422.44,115.83 L423.01,115.88 L423.58,115.93 L424.15,115.97 L424.72,116.01 L425.30,116.06 L425.87,116.09 L426.44,116.14 L427.01,116.18 L427.58,116.21 L428.15,116.26 L428.73,116.30 L429.30,116.33 L429.87,116.37 L430.44,116.40 L431.01,116.43 L431.58,116.47 L432.16,116.51 L432.73,116.53 L433.30,116.57 L433.87,116.60 L434.44,116.63 L435.01,116.66 L435.59,116.70 L436.16,116.72 L436.73,116.75 L437.30,116.78 L437.87,116.81 L438.44,116.84 L439.02,116.87 L439.59,116.89 L440.16,116.92 L440.73,116.94 L441.30,116.97 L441.88,116.99 L442.45,117.02 L443.02,117.04 L443.59,117.06 L444.16,117.09 L444.73,117.11 L445.30,117.13 L445.88,117.16 L446.45,117.17 L447.02,117.20 L447.59,117.22 L448.16,117.24 L448.73,117.26 L449.31,117.28 L449.88,117.29 L450.45,117.31 L451.02,117.34 L451.59,117.35 L452.16,117.37 L452.74,117.39 L453.31,117.40 L453.88,117.42 L454.45,117.44 L455.02,117.45 L455.59,117.47 L456.17,117.49 L456.74,117.50 L457.31,117.52 L457.88,117.53 L458.45,117.55 L459.02,117.56 L459.60,117.58 L460.17,117.59 L460.74,117.60 L461.31,117.62 L461.88,117.63 L462.45,117.64 L463.03,117.66 L463.60,117.67 L464.17,117.68 L464.74,117.69 L465.31,117.70 L465.88,117.72 L466.46,117.73 L467.03,117.74 L467.60,117.75 L468.17,117.76 L468.74,117.77 L469.31,117.78 L469.89,117.79 L470.46,117.80 L471.03,117.81 L471.60,117.82 L472.17,117.83 L472.75,117.84 L473.32,117.85 L473.89,117.86 L474.46,117.87 L475.03,117.88 L475.60,117.89 L476.17,117.90 L476.75,117.91 L477.32,117.91 L477.89,117.92 L478.46,117.93 L479.03,117.94 L479.60,117.95 L480.18,117.95 L480.75,117.96 L481.32,117.97 L481.89,117.98 L482.46,117.98 L483.03,117.99 L483.61,118.00 L484.18,118.00 L484.75,118.01 L485.32,118.02 L485.89,118.02 L486.46,118.03 L487.04,118.04 L487.61,118.04 L488.18,118.05 L488.75,118.05 L489.32,118.06 L489.89,118.06 L490.47,118.07 L491.04,118.08 L491.61,118.08 L492.18,118.09 L492.75,118.09 L493.32,118.10 L493.90,118.10 L494.47,118.11 L495.04,118.11 L495.61,118.12 L496.18,118.12 L496.75,118.13 L497.33,118.13 L497.90,118.13 L498.47,118.14 L499.04,118.14 L499.61,118.15 L500.18,118.15 L500.76,118.16 L501.33,118.16 L501.90,118.16" fill="none" stroke="#2d5d88" stroke-width="1.4"/>
<path d="M330.40,45.60 L330.97,49.08 L331.54,51.60 L332.11,54.13 L332.69,56.47 L333.26,58.41 L333.83,60.49 L334.40,62.46 L334.97,64.11 L335.54,65.91 L336.12,67.63 L336.69,69.07 L337.26,70.65 L337.83,72.18 L338.40,73.45 L338.97,74.87 L339.55,76.24 L340.12,77.38 L340.69,78.65 L341.26,79.89 L341.83,80.91 L342.40,82.07 L342.98,83.18 L343.55,84.11 L344.12,85.16 L344.69,86.18 L345.26,87.02 L345.83,87.98 L346.41,88.91 L346.98,89.67 L347.55,90.55 L348.12,91.40 L348.69,92.10 L349.26,92.90 L349.84,93.68 L350.41,94.32 L350.98,95.05 L351.55,95.77 L352.12,96.36 L352.69,97.03 L353.27,97.69 L353.84,98.23 L354.41,98.85 L354.98,99.46 L355.55,99.96 L356.12,100.53 L356.70,101.09 L357.27,101.54 L357.84,102.07 L358.41,102.59 L358.98,103.01 L359.55,103.50 L360.13,103.98 L360.70,104.36 L361.27,104.82 L361.84,105.26 L362.41,105.62 L362.98,106.03 L363.56,106.44 L364.13,106.77 L364.70,107.16 L365.27,107.54 L365.84,107.85 L366.41,108.21 L366.99,108.56 L367.56,108.84 L368.13,109.17 L368.70,109.50 L369.27,109.76 L369.84,110.07 L370.42,110.37 L370.99,110.62 L371.56,110.90 L372.13,111.18 L372.70,111.41 L373.27,111.67 L373.85,111.93 L374.42,112.14 L374.99,112.39 L375.56,112.63 L376.13,112.83 L376.70,113.06 L377.28,113.28 L377.85,113.47 L378.42,113.68 L378.99,113.89 L379.56,114.06 L380.13,114.26 L380.71,114.45 L381.28,114.61 L381.85,114.79 L382.42,114.97 L382.99,115.12 L383.56,115.29 L384.14,115.46 L384.71,115.60 L385.28,115.76 L385.85,115.92 L386.42,116.04 L386.99,116.19 L387.57,116.34 L388.14,116.46 L388.71,116.60 L389.28,116.73 L389.85,116.84 L390.42,116.97 L391.00,117.10 L391.57,117.20 L392.14,117.33 L392.71,117.44 L393.28,117.54 L393.85,117.65 L394.43,117.76 L395.00,117.85 L395.57,117.96 L396.14,118.06 L396.71,118.15 L397.28,118.24 L397.86,118.34 L398.43,118.42 L399.00,118.51 L399.57,118.60 L400.14,118.67 L400.71,118.76 L401.29,118.84 L401.86,118.91 L402.43,118.99 L403.00,119.07 L403.57,119.13 L404.14,119.21 L404.72,119.28 L405.29,119.34 L405.86,119.41 L406.43,119.48 L407.00,119.54 L407.57,119.60 L408.15,119.67 L408.72,119.72 L409.29,119.78 L409.86,119.84 L410.43,119.89 L411.00,119.95 L411.58,120.00 L412.15,120.05 L412.72,120.10 L413.29,120.15 L413.86,120.20 L414.43,120.25 L415.01,120.30 L415.58,120.34 L416.15,120.38 L416.72,120.43 L417.29,120.47 L417.86,120.51 L418.44,120.55 L419.01,120.59 L419.58,120.63 L420.15,120.67 L420.72,120.70 L421.29,120.74 L421.87,120.78 L422.44,120.81 L423.01,120.85 L423.58,120.88 L424.15,120.91 L424.72,120.94 L425.30,120.98 L425.87,121.00 L426.44,121.03 L427.01,121.07 L427.58,121.09 L428.15,121.12 L428.73,121.15 L429.30,121.17 L429.87,121.20 L430.44,121.23 L431.01,121.25 L431.58,121.28 L432.16,121.30 L432.73,121.32 L433.30,121.35 L433.87,121.37 L434.44,121.39 L435.01,121.41 L435.59,121.44 L436.16,121.45 L436.73,121.48 L437.30,121.50 L437.87,121.51 L438.44,121.53 L439.02,121.55 L439.59,121.57 L440.16,121.59 L440.73,121.61 L441.30,121.62 L441.88,121.64 L442.45,121.66 L443.02,121.67 L443.59,121.69 L444.16,121.70 L444.73,121.72 L445.30,121.73 L445.88,121.75 L446.45,121.76 L447.02,121.78 L447.59,121.79 L448.16,121.80 L448.73,121.81 L449.31,121.83 L449.88,121.84 L450.45,121.85 L451.02,121.86 L451.59,121.87 L452.16,121.89 L452.74,121.90 L453.31,121.91 L453.88,121.92 L454.45,121.93 L455.02,121.94 L455.59,121.95 L456.17,121.96 L456.74,121.97 L457.31,121.98 L457.88,121.99 L458.45,122.00 L459.02,122.01 L459.60,122.02 L460.17,122.02 L460.74,122.03 L461.31,122.04 L461.88,122.05 L462.45,122.06 L463.03,122.06 L463.60,122.07 L464.17,122.08 L464.74,122.09 L465.31,122.09 L465.88,122.10 L466.46,122.11 L467.03,122.11 L467.60,122.12 L468.17,122.13 L468.74,122.13 L469.31,122.14 L469.89,122.15 L470.46,122.15 L471.03,122.16 L471.60,122.16 L472.17,122.17 L472.75,122.17 L473.32,122.18 L473.89,122.18 L474.46,122.19 L475.03,122.19 L475.60,122.20 L476.17,122.20 L476.75,122.21 L477.32,122.21 L477.89,122.22 L478.46,122.22 L479.03,122.23 L479.60,122.23 L480.18,122.23 L480.75,122.24 L481.32,122.24 L481.89,122.25 L482.46,122.25 L483.03,122.25 L483.61,122.26 L484.18,122.26 L484.75,122.26 L485.32,122.27 L485.89,122.27 L486.46,122.27 L487.04,122.28 L487.61,122.28 L488.18,122.28 L488.75,122.29 L489.32,122.29 L489.89,122.29 L490.47,122.30 L491.04,122.30 L491.61,122.30 L492.18,122.30 L492.75,122.31 L493.32,122.31 L493.90,122.31 L494.47,122.31 L495.04,122.32 L495.61,122.32 L496.18,122.32 L496.75,122.32 L497.33,122.33 L497.90,122.33 L498.47,122.33 L499.04,122.33 L499.61,122.33 L500.18,122.34 L500.76,122.34 L501.33,122.34 L501.90,122.34" fill="none" stroke="#a6d3e6" stroke-width="1.4"/>
<path d="M330.40,45.60 L330.97,50.30 L331.54,53.53 L332.11,56.62 L332.69,59.41 L333.26,61.75 L333.83,64.16 L334.40,66.41 L334.97,68.32 L335.54,70.34 L336.12,72.25 L336.69,73.87 L337.26,75.61 L337.83,77.27 L338.40,78.68 L338.97,80.20 L339.55,81.66 L340.12,82.89 L340.69,84.24 L341.26,85.53 L341.83,86.63 L342.40,87.83 L342.98,88.99 L343.55,89.96 L344.12,91.04 L344.69,92.08 L345.26,92.95 L345.83,93.92 L346.41,94.86 L346.98,95.64 L347.55,96.52 L348.12,97.37 L348.69,98.08 L349.26,98.87 L349.84,99.64 L350.41,100.29 L350.98,101.01 L351.55,101.71 L352.12,102.29 L352.69,102.95 L353.27,103.59 L353.84,104.12 L354.41,104.72 L354.98,105.31 L355.55,105.79 L356.12,106.34 L356.70,106.88 L357.27,107.32 L357.84,107.82 L358.41,108.31 L358.98,108.72 L359.55,109.18 L360.13,109.63 L360.70,110.00 L361.27,110.42 L361.84,110.84 L362.41,111.18 L362.98,111.57 L363.56,111.95 L364.13,112.26 L364.70,112.62 L365.27,112.97 L365.84,113.26 L366.41,113.59 L366.99,113.91 L367.56,114.17 L368.13,114.48 L368.70,114.78 L369.27,115.02 L369.84,115.30 L370.42,115.58 L370.99,115.80 L371.56,116.06 L372.13,116.32 L372.70,116.52 L373.27,116.77 L373.85,117.00 L374.42,117.19 L374.99,117.41 L375.56,117.63 L376.13,117.81 L376.70,118.02 L377.28,118.22 L377.85,118.38 L378.42,118.57 L378.99,118.76 L379.56,118.91 L380.13,119.09 L380.71,119.26 L381.28,119.40 L381.85,119.56 L382.42,119.72 L382.99,119.85 L383.56,120.01 L384.14,120.16 L384.71,120.28 L385.28,120.42 L385.85,120.56 L386.42,120.67 L386.99,120.80 L387.57,120.93 L388.14,121.03 L388.71,121.15 L389.28,121.27 L389.85,121.37 L390.42,121.48 L391.00,121.59 L391.57,121.68 L392.14,121.79 L392.71,121.89 L393.28,121.98 L393.85,122.07 L394.43,122.17 L395.00,122.25 L395.57,122.34 L396.14,122.43 L396.71,122.50 L397.28,122.59 L397.86,122.67 L398.43,122.74 L399.00,122.82 L399.57,122.89 L400.14,122.96 L400.71,123.03 L401.29,123.10 L401.86,123.16 L402.43,123.23 L403.00,123.30 L403.57,123.35 L404.14,123.42 L404.72,123.48 L405.29,123.53 L405.86,123.59 L406.43,123.65 L407.00,123.70 L407.57,123.75 L408.15,123.81 L408.72,123.85 L409.29,123.90 L409.86,123.95 L410.43,123.99 L411.00,124.04 L411.58,124.09 L412.15,124.13 L412.72,124.17 L413.29,124.22 L413.86,124.25 L414.43,124.30 L415.01,124.34 L415.58,124.37 L416.15,124.41 L416.72,124.45 L417.29,124.48 L417.86,124.52 L418.44,124.56 L419.01,124.58 L419.58,124.62 L420.15,124.65 L420.72,124.68 L421.29,124.71 L421.87,124.75 L422.44,124.77 L423.01,124.80 L423.58,124.83 L424.15,124.85 L424.72,124.88 L425.30,124.91 L425.87,124.93 L426.44,124.96 L427.01,124.99 L427.58,125.01 L428.15,125.03 L428.73,125.06 L429.30,125.08 L429.87,125.10 L430.44,125.12 L431.01,125.14 L431.58,125.16 L432.16,125.18 L432.73,125.20 L433.30,125.22 L433.87,125.24 L434.44,125.26 L435.01,125.28 L435.59,125.29 L436.16,125.31 L436.73,125.33 L437.30,125.34 L437.87,125.36 L438.44,125.38 L439.02,125.39 L439.59,125.41 L440.16,125.42 L440.73,125.44 L441.30,125.45 L441.88,125.46 L442.45,125.48 L443.02,125.49 L443.59,125.50 L444.16,125.52 L444.73,125.53 L445.30,125.54 L445.88,125.55 L446.45,125.56 L447.02,125.58 L447.59,125.59 L448.16,125.60 L448.73,125.61 L449.31,125.62 L449.88,125.63 L450.45,125.64 L451.02,125.65 L451.59,125.66 L452.16,125.67 L452.74,125.68 L453.31,125.69 L453.88,125.70 L454.45,125.70 L455.02,125.71 L455.59,125.72 L456.17,125.73 L456.74,125.74 L457.31,125.75 L457.88,125.75 L458.45,125.76 L459.02,125.77 L459.60,125.78 L460.17,125.78 L460.74,125.79 L461.31,125.80 L461.88,125.80 L462.45,125.81 L463.03,125.82 L463.60,125.82 L464.17,125.83 L464.74,125.83 L465.31,125.84 L465.88,125.84 L466.46,125.85 L467.03,125.86 L467.60,125.86 L468.17,125.87 L468.74,125.87 L469.31,125.88 L469.89,125.88 L470.46,125.89 L471.03,125.89 L471.60,125.90 L472.17,125.90 L472.75,125.90 L473.32,125.91 L473.89,125.91 L474.46,125.92 L475.03,125.92 L475.60,125.93 L476.17,125.93 L476.75,125.93 L477.32,125.94 L477.89,125.94 L478.46,125.94 L479.03,125.95 L479.60,125.95 L480.18,125.95 L480.75,125.96 L481.32,125.96 L481.89,125.96 L482.46,125.97 L483.03,125.97 L483.61,125.97 L484.18,125.98 L484.75,125.98 L485.32,125.98 L485.89,125.99 L486.46,125.99 L487.04,125.99 L487.61,125.99 L488.18,126.00 L488.75,126.00 L489.32,126.00 L489.89,126.00 L490.47,126.01 L491.04,126.01 L491.61,126.01 L492.18,126.01 L492.75,126.01 L493.32,126.02 L493.90,126.02 L494.47,126.02 L495.04,126.02 L495.61,126.03 L496.18,126.03 L496.75,126.03 L497.33,126.03 L497.90,126.03 L498.47,126.03 L499.04,126.04 L499.61,126.04 L500.18,126.04 L500.76,126.04 L501.33,126.04 L501.90,126.04" fill="none" stroke="#e3a5b8" stroke-width="1.4"/>
<path d="M330.40,45.60 L330.97,51.07 L331.54,55.03 L332.11,58.78 L332.69,62.19 L333.26,65.09 L333.83,68.03 L334.40,70.78 L334.97,73.15 L335.54,75.60 L336.12,77.91 L336.69,79.91 L337.26,81.99 L337.83,83.98 L338.40,85.69 L338.97,87.49 L339.55,89.21 L340.12,90.70 L340.69,92.28 L341.26,93.78 L341.83,95.08 L342.40,96.47 L342.98,97.79 L343.55,98.93 L344.12,100.15 L344.69,101.33 L345.26,102.34 L345.83,103.42 L346.41,104.46 L346.98,105.36 L347.55,106.32 L348.12,107.24 L348.69,108.04 L349.26,108.90 L349.84,109.73 L350.41,110.44 L350.98,111.21 L351.55,111.95 L352.12,112.58 L352.69,113.27 L353.27,113.93 L353.84,114.50 L354.41,115.12 L354.98,115.72 L355.55,116.23 L356.12,116.78 L356.70,117.32 L357.27,117.78 L357.84,118.28 L358.41,118.76 L358.98,119.18 L359.55,119.63 L360.13,120.06 L360.70,120.44 L361.27,120.84 L361.84,121.23 L362.41,121.57 L362.98,121.94 L363.56,122.29 L364.13,122.60 L364.70,122.93 L365.27,123.25 L365.84,123.53 L366.41,123.83 L366.99,124.12 L367.56,124.37 L368.13,124.64 L368.70,124.91 L369.27,125.13 L369.84,125.38 L370.42,125.62 L370.99,125.82 L371.56,126.05 L372.13,126.27 L372.70,126.45 L373.27,126.66 L373.85,126.85 L374.42,127.02 L374.99,127.21 L375.56,127.39 L376.13,127.54 L376.70,127.71 L377.28,127.87 L377.85,128.01 L378.42,128.17 L378.99,128.31 L379.56,128.44 L380.13,128.58 L380.71,128.72 L381.28,128.83 L381.85,128.96 L382.42,129.08 L382.99,129.19 L383.56,129.30 L384.14,129.42 L384.71,129.51 L385.28,129.62 L385.85,129.72 L386.42,129.81 L386.99,129.91 L387.57,130.00 L388.14,130.08 L388.71,130.17 L389.28,130.25 L389.85,130.33 L390.42,130.41 L391.00,130.48 L391.57,130.55 L392.14,130.62 L392.71,130.70 L393.28,130.76 L393.85,130.82 L394.43,130.89 L395.00,130.95 L395.57,131.01 L396.14,131.07 L396.71,131.12 L397.28,131.17 L397.86,131.23 L398.43,131.27 L399.00,131.33 L399.57,131.38 L400.14,131.42 L400.71,131.47 L401.29,131.51 L401.86,131.55 L402.43,131.59 L403.00,131.64 L403.57,131.67 L404.14,131.71 L404.72,131.75 L405.29,131.78 L405.86,131.82 L406.43,131.85 L407.00,131.88 L407.57,131.92 L408.15,131.95 L408.72,131.98 L409.29,132.01 L409.86,132.04 L410.43,132.06 L411.00,132.09 L411.58,132.12 L412.15,132.14 L412.72,132.17 L413.29,132.19 L413.86,132.21 L414.43,132.24 L415.01,132.26 L415.58,132.28 L416.15,132.30 L416.72,132.32 L417.29,132.34 L417.86,132.36 L418.44,132.38 L419.01,132.39 L419.58,132.41 L420.15,132.43 L420.72,132.44 L421.29,132.46 L421.87,132.48 L422.44,132.49 L423.01,132.51 L423.58,132.52 L424.15,132.53 L424.72,132.55 L425.30,132.56 L425.87,132.57 L426.44,132.59 L427.01,132.60 L427.58,132.61 L428.15,132.62 L428.73,132.63 L429.30,132.64 L429.87,132.65 L430.44,132.67 L431.01,132.67 L431.58,132.68 L432.16,132.69 L432.73,132.70 L433.30,132.71 L433.87,132.72 L434.44,132.73 L435.01,132.74 L435.59,132.75 L436.16,132.75 L436.73,132.76 L437.30,132.77 L437.87,132.77 L438.44,132.78 L439.02,132.79 L439.59,132.79 L440.16,132.80 L440.73,132.81 L441.30,132.81 L441.88,132.82 L442.45,132.83 L443.02,132.83 L443.59,132.84 L444.16,132.84 L444.73,132.85 L445.30,132.85 L445.88,132.86 L446.45,132.86 L447.02,132.87 L447.59,132.87 L448.16,132.87 L448.73,132.88 L449.31,132.88 L449.88,132.89 L450.45,132.89 L451.02,132.90 L451.59,132.90 L452.16,132.90 L452.74,132.91 L453.31,132.91 L453.88,132.91 L454.45,132.92 L455.02,132.92 L455.59,132.92 L456.17,132.93 L456.74,132.93 L457.31,132.93 L457.88,132.93 L458.45,132.94 L459.02,132.94 L459.60,132.94 L460.17,132.94 L460.74,132.95 L461.31,132.95 L461.88,132.95 L462.45,132.95 L463.03,132.96 L463.60,132.96 L464.17,132.96 L464.74,132.96 L465.31,132.96 L465.88,132.97 L466.46,132.97 L467.03,132.97 L467.60,132.97 L468.17,132.97 L468.74,132.97 L469.31,132.98 L469.89,132.98 L470.46,132.98 L471.03,132.98 L471.60,132.98 L472.17,132.98 L472.75,132.98 L473.32,132.99 L473.89,132.99 L474.46,132.99 L475.03,132.99 L475.60,132.99 L476.17,132.99 L476.75,132.99 L477.32,132.99 L477.89,133.00 L478.46,133.00 L479.03,133.00 L479.60,133.00 L480.18,133.00 L480.75,133.00 L481.32,133.00 L481.89,133.00 L482.46,133.00 L483.03,133.00 L483.61,133.00 L484.18,133.01 L484.75,133.01 L485.32,133.01 L485.89,133.01 L486.46,133.01 L487.04,133.01 L487.61,133.01 L488.18,133.01 L488.75,133.01 L489.32,133.01 L489.89,133.01 L490.47,133.01 L491.04,133.01 L491.61,133.01 L492.18,133.01 L492.75,133.02 L493.32,133.02 L493.90,133.02 L494.47,133.02 L495.04,133.02 L495.61,133.02 L496.18,133.02 L496.75,133.02 L497.33,133.02 L497.90,133.02 L498.47,133.02 L499.04,133.02 L499.61,133.02 L500.18,133.02 L500.76,133.02 L501.33,133.02 L501.90,133.02" fill="none" stroke="#c4224a" stroke-width="1.4"/>
<path d="M330.40,45.60 L330.97,53.52 L331.54,60.55 L332.11,67.30 L332.69,73.54 L333.26,79.06 L333.83,84.38 L334.40,89.28 L334.97,93.63 L335.54,97.81 L336.12,101.66 L336.69,105.08 L337.26,108.37 L337.83,111.41 L338.40,114.10 L338.97,116.68 L339.55,119.07 L340.12,121.19 L340.69,123.22 L341.26,125.10 L341.83,126.76 L342.40,128.36 L342.98,129.84 L343.55,131.15 L344.12,132.41 L344.69,133.57 L345.26,134.60 L345.83,135.59 L346.41,136.50 L346.98,137.31 L347.55,138.09 L348.12,138.81 L348.69,139.45 L349.26,140.06 L349.84,140.63 L350.41,141.13 L350.98,141.61 L351.55,142.06 L352.12,142.45 L352.69,142.83 L353.27,143.18 L353.84,143.49 L354.41,143.79 L354.98,144.06 L355.55,144.31 L356.12,144.54 L356.70,144.76 L357.27,144.95 L357.84,145.14 L358.41,145.31 L358.98,145.46 L359.55,145.60 L360.13,145.74 L360.70,145.85 L361.27,145.97 L361.84,146.07 L362.41,146.17 L362.98,146.26 L363.56,146.34 L364.13,146.41 L364.70,146.48 L365.27,146.55 L365.84,146.61 L366.41,146.66 L366.99,146.71 L367.56,146.76 L368.13,146.80 L368.70,146.84 L369.27,146.88 L369.84,146.91 L370.42,146.95 L370.99,146.97 L371.56,147.00 L372.13,147.03 L372.70,147.05 L373.27,147.07 L373.85,147.09 L374.42,147.11 L374.99,147.12 L375.56,147.14 L376.13,147.15 L376.70,147.17 L377.28,147.18 L377.85,147.19 L378.42,147.20 L378.99,147.21 L379.56,147.22 L380.13,147.23 L380.71,147.23 L381.28,147.24 L381.85,147.25 L382.42,147.25 L382.99,147.26 L383.56,147.26 L384.14,147.27 L384.71,147.27 L385.28,147.27 L385.85,147.28 L386.42,147.28 L386.99,147.28 L387.57,147.29 L388.14,147.29 L388.71,147.29 L389.28,147.29 L389.85,147.30 L390.42,147.30 L391.00,147.30 L391.57,147.30 L392.14,147.30 L392.71,147.31 L393.28,147.31 L393.85,147.31 L394.43,147.31 L395.00,147.31 L395.57,147.31 L396.14,147.31 L396.71,147.31 L397.28,147.31 L397.86,147.31 L398.43,147.31 L399.00,147.31 L399.57,147.32 L400.14,147.32 L400.71,147.32 L401.29,147.32 L401.86,147.32 L402.43,147.32 L403.00,147.32 L403.57,147.32 L404.14,147.32 L404.72,147.32 L405.29,147.32 L405.86,147.32 L406.43,147.32 L407.00,147.32 L407.57,147.32 L408.15,147.32 L408.72,147.32 L409.29,147.32 L409.86,147.32 L410.43,147.32 L411.00,147.32 L411.58,147.32 L412.15,147.32 L412.72,147.32 L413.29,147.32 L413.86,147.32 L414.43,147.32 L415.01,147.32 L415.58,147.32 L416.15,147.32 L416.72,147.32 L417.29,147.32 L417.86,147.32 L418.44,147.32 L419.01,147.32 L419.58,147.32 L420.15,147.32 L420.72,147.32 L421.29,147.32 L421.87,147.32 L422.44,147.32 L423.01,147.32 L423.58,147.32 L424.15,147.32 L424.72,147.32 L425.30,147.32 L425.87,147.32 L426.44,147.32 L427.01,147.32 L427.58,147.32 L428.15,147.32 L428.73,147.32 L429.30,147.32 L429.87,147.32 L430.44,147.32 L431.01,147.32 L431.58,147.32 L432.16,147.32 L432.73,147.32 L433.30,147.32 L433.87,147.32 L434.44,147.32 L435.01,147.32 L435.59,147.32 L436.16,147.32 L436.73,147.32 L437.30,147.32 L437.87,147.32 L438.44,147.32 L439.02,147.32 L439.59,147.32 L440.16,147.32 L440.73,147.32 L441.30,147.32 L441.88,147.32 L442.45,147.32 L443.02,147.32 L443.59,147.32 L444.16,147.32 L444.73,147.32 L445.30,147.32 L445.88,147.32 L446.45,147.32 L447.02,147.32 L447.59,147.32 L448.16,147.32 L448.73,147.32 L449.31,147.32 L449.88,147.32 L450.45,147.32 L451.02,147.32 L451.59,147.32 L452.16,147.32 L452.74,147.32 L453.31,147.32 L453.88,147.32 L454.45,147.32 L455.02,147.32 L455.59,147.32 L456.17,147.32 L456.74,147.32 L457.31,147.32 L457.88,147.32 L458.45,147.32 L459.02,147.32 L459.60,147.32 L460.17,147.32 L460.74,147.32 L461.31,147.32 L461.88,147.32 L462.45,147.32 L463.03,147.32 L463.60,147.32 L464.17,147.32 L464.74,147.32 L465.31,147.32 L465.88,147.32 L466.46,147.32 L467.03,147.32 L467.60,147.32 L468.17,147.32 L468.74,147.32 L469.31,147.32 L469.89,147.32 L470.46,147.32 L471.03,147.32 L471.60,147.32 L472.17,147.32 L472.75,147.32 L473.32,147.32 L473.89,147.32 L474.46,147.32 L475.03,147.32 L475.60,147.32 L476.17,147.32 L476.75,147.32 L477.32,147.32 L477.89,147.32 L478.46,147.32 L479.03,147.32 L479.60,147.32 L480.18,147.32 L480.75,147.32 L481.32,147.32 L481.89,147.32 L482.46,147.32 L483.03,147.32 L483.61,147.32 L484.18,147.32 L484.75,147.32 L485.32,147.32 L485.89,147.32 L486.46,147.32 L487.04,147.32 L487.61,147.32 L488.18,147.32 L488.75,147.32 L489.32,147.32 L489.89,147.32 L490.47,147.32 L491.04,147.32 L491.61,147.32 L492.18,147.32 L492.75,147.32 L493.32,147.32 L493.90,147.32 L494.47,147.32 L495.04,147.32 L495.61,147.32 L496.18,147.32 L496.75,147.32 L497.33,147.32 L497.90,147.32 L498.47,147.32 L499.04,147.32 L499.61,147.32 L500.18,147.32 L500.76,147.32 L501.33,147.32 L501.90,147.32" fill="none" stroke="#5a3c26" stroke-width="1.4"/>
<text x="10.6" y="246.8" class="pl">C</text>
<path d="M65.6,255.6 V390.5 H253.6" fill="none" stroke="#000" stroke-width="1.3"/>
<line x1="61.10" y1="384.60" x2="65.6" y2="384.60" stroke="#000" stroke-width="1.3"/>
<text x="56.10" y="388.80" text-anchor="end" class="tl">0</text>
<line x1="61.10" y1="353.78" x2="65.6" y2="353.78" stroke="#000" stroke-width="1.3"/>
<text x="56.10" y="357.98" text-anchor="end" class="tl">350</text>
<line x1="61.10" y1="322.95" x2="65.6" y2="322.95" stroke="#000" stroke-width="1.3"/>
<text x="56.10" y="327.15" text-anchor="end" class="tl">700</text>
<line x1="61.10" y1="292.12" x2="65.6" y2="292.12" stroke="#000" stroke-width="1.3"/>
<text x="56.10" y="296.32" text-anchor="end" class="tl">1050</text>
<line x1="61.10" y1="261.30" x2="65.6" y2="261.30" stroke="#000" stroke-width="1.3"/>
<text x="56.10" y="265.50" text-anchor="end" class="tl">1400</text>
<line x1="73.70" y1="390.5" x2="73.70" y2="395.20" stroke="#000" stroke-width="1.3"/>
<text x="73.70" y="409.70" text-anchor="middle" class="tl">0</text>
<line x1="107.96" y1="390.5" x2="107.96" y2="395.20" stroke="#000" stroke-width="1.3"/>
<text x="107.96" y="409.70" text-anchor="middle" class="tl">2</text>
<line x1="142.22" y1="390.5" x2="142.22" y2="395.20" stroke="#000" stroke-width="1.3"/>
<text x="142.22" y="409.70" text-anchor="middle" class="tl">4</text>
<line x1="176.48" y1="390.5" x2="176.48" y2="395.20" stroke="#000" stroke-width="1.3"/>
<text x="176.48" y="409.70" text-anchor="middle" class="tl">6</text>
<line x1="210.74" y1="390.5" x2="210.74" y2="395.20" stroke="#000" stroke-width="1.3"/>
<text x="210.74" y="409.70" text-anchor="middle" class="tl">8</text>
<line x1="245.00" y1="390.5" x2="245.00" y2="395.20" stroke="#000" stroke-width="1.3"/>
<text x="245.00" y="409.70" text-anchor="middle" class="tl">10</text>
<text transform="translate(21.60,323.00) rotate(-90)" text-anchor="middle" class="tt" textLength="84.5" lengthAdjust="spacingAndGlyphs">Free thrombin (nM)</text>
<text x="159.50" y="429.70" text-anchor="middle" class="tt" textLength="65.5" lengthAdjust="spacingAndGlyphs">Time (minutes)</text>
<path d="M73.70,261.30 L74.27,265.57 L74.84,269.00 L75.41,272.11 L75.98,275.00 L76.56,277.74 L77.13,280.33 L77.70,282.81 L78.27,285.19 L78.84,287.47 L79.41,289.67 L79.98,291.79 L80.55,293.84 L81.12,295.82 L81.69,297.75 L82.27,299.61 L82.84,301.41 L83.41,303.17 L83.98,304.87 L84.55,306.53 L85.12,308.14 L85.69,309.71 L86.26,311.24 L86.83,312.72 L87.40,314.17 L87.98,315.58 L88.55,316.96 L89.12,318.30 L89.69,319.61 L90.26,320.89 L90.83,322.13 L91.40,323.35 L91.97,324.54 L92.54,325.70 L93.11,326.83 L93.69,327.94 L94.26,329.02 L94.83,330.08 L95.40,331.12 L95.97,332.13 L96.54,333.12 L97.11,334.09 L97.68,335.03 L98.25,335.96 L98.82,336.86 L99.40,337.75 L99.97,338.62 L100.54,339.46 L101.11,340.29 L101.68,341.11 L102.25,341.90 L102.82,342.68 L103.39,343.45 L103.96,344.19 L104.53,344.93 L105.11,345.64 L105.68,346.35 L106.25,347.04 L106.82,347.71 L107.39,348.37 L107.96,349.02 L108.53,349.65 L109.10,350.28 L109.67,350.89 L110.24,351.48 L110.81,352.07 L111.39,352.64 L111.96,353.21 L112.53,353.76 L113.10,354.30 L113.67,354.83 L114.24,355.35 L114.81,355.86 L115.38,356.36 L115.95,356.86 L116.53,357.34 L117.10,357.81 L117.67,358.27 L118.24,358.73 L118.81,359.17 L119.38,359.61 L119.95,360.04 L120.52,360.46 L121.09,360.88 L121.66,361.28 L122.23,361.68 L122.81,362.07 L123.38,362.46 L123.95,362.83 L124.52,363.20 L125.09,363.57 L125.66,363.92 L126.23,364.27 L126.80,364.62 L127.37,364.95 L127.94,365.28 L128.52,365.61 L129.09,365.93 L129.66,366.24 L130.23,366.55 L130.80,366.85 L131.37,367.15 L131.94,367.44 L132.51,367.72 L133.08,368.01 L133.66,368.28 L134.23,368.55 L134.80,368.82 L135.37,369.08 L135.94,369.34 L136.51,369.59 L137.08,369.84 L137.65,370.08 L138.22,370.32 L138.79,370.55 L139.37,370.79 L139.94,371.01 L140.51,371.23 L141.08,371.45 L141.65,371.67 L142.22,371.88 L142.79,372.09 L143.36,372.29 L143.93,372.49 L144.50,372.69 L145.07,372.88 L145.65,373.07 L146.22,373.26 L146.79,373.44 L147.36,373.62 L147.93,373.80 L148.50,373.98 L149.07,374.15 L149.64,374.32 L150.21,374.48 L150.78,374.64 L151.36,374.81 L151.93,374.96 L152.50,375.12 L153.07,375.27 L153.64,375.42 L154.21,375.57 L154.78,375.71 L155.35,375.85 L155.92,375.99 L156.50,376.13 L157.07,376.26 L157.64,376.40 L158.21,376.53 L158.78,376.66 L159.35,376.78 L159.92,376.91 L160.49,377.03 L161.06,377.15 L161.63,377.27 L162.20,377.38 L162.78,377.50 L163.35,377.61 L163.92,377.72 L164.49,377.83 L165.06,377.93 L165.63,378.04 L166.20,378.14 L166.77,378.24 L167.34,378.34 L167.91,378.44 L168.49,378.54 L169.06,378.63 L169.63,378.73 L170.20,378.82 L170.77,378.91 L171.34,379.00 L171.91,379.08 L172.48,379.17 L173.05,379.25 L173.62,379.34 L174.20,379.42 L174.77,379.50 L175.34,379.58 L175.91,379.66 L176.48,379.73 L177.05,379.81 L177.62,379.88 L178.19,379.96 L178.76,380.03 L179.34,380.10 L179.91,380.17 L180.48,380.24 L181.05,380.30 L181.62,380.37 L182.19,380.43 L182.76,380.50 L183.33,380.56 L183.90,380.62 L184.47,380.69 L185.05,380.75 L185.62,380.80 L186.19,380.86 L186.76,380.92 L187.33,380.98 L187.90,381.03 L188.47,381.09 L189.04,381.14 L189.61,381.19 L190.18,381.24 L190.75,381.30 L191.33,381.35 L191.90,381.40 L192.47,381.44 L193.04,381.49 L193.61,381.54 L194.18,381.59 L194.75,381.63 L195.32,381.68 L195.89,381.72 L196.47,381.76 L197.04,381.81 L197.61,381.85 L198.18,381.89 L198.75,381.93 L199.32,381.97 L199.89,382.01 L200.46,382.05 L201.03,382.09 L201.60,382.13 L202.18,382.17 L202.75,382.20 L203.32,382.24 L203.89,382.27 L204.46,382.31 L205.03,382.34 L205.60,382.38 L206.17,382.41 L206.74,382.44 L207.31,382.48 L207.88,382.51 L208.46,382.54 L209.03,382.57 L209.60,382.60 L210.17,382.63 L210.74,382.66 L211.31,382.69 L211.88,382.72 L212.45,382.74 L213.02,382.77 L213.59,382.80 L214.17,382.83 L214.74,382.85 L215.31,382.88 L215.88,382.90 L216.45,382.93 L217.02,382.95 L217.59,382.98 L218.16,383.00 L218.73,383.03 L219.31,383.05 L219.88,383.07 L220.45,383.10 L221.02,383.12 L221.59,383.14 L222.16,383.16 L222.73,383.18 L223.30,383.20 L223.87,383.22 L224.44,383.24 L225.01,383.26 L225.59,383.28 L226.16,383.30 L226.73,383.32 L227.30,383.34 L227.87,383.36 L228.44,383.38 L229.01,383.40 L229.58,383.41 L230.15,383.43 L230.72,383.45 L231.30,383.47 L231.87,383.48 L232.44,383.50 L233.01,383.51 L233.58,383.53 L234.15,383.55 L234.72,383.56 L235.29,383.58 L235.86,383.59 L236.44,383.61 L237.01,383.62 L237.58,383.64 L238.15,383.65 L238.72,383.66 L239.29,383.68 L239.86,383.69 L240.43,383.70 L241.00,383.72 L241.57,383.73 L242.14,383.74 L242.72,383.75 L243.29,383.77 L243.86,383.78 L244.43,383.79 L245.00,383.80" fill="none" stroke="#3c4658" stroke-width="1.4"/>
<path d="M73.70,261.30 L74.27,265.67 L74.84,269.22 L75.41,272.46 L75.98,275.49 L76.56,278.35 L77.13,281.06 L77.70,283.66 L78.27,286.14 L78.84,288.53 L79.41,290.83 L79.98,293.05 L80.55,295.20 L81.12,297.27 L81.69,299.28 L82.27,301.22 L82.84,303.11 L83.41,304.93 L83.98,306.71 L84.55,308.43 L85.12,310.11 L85.69,311.74 L86.26,313.32 L86.83,314.86 L87.40,316.36 L87.98,317.82 L88.55,319.25 L89.12,320.63 L89.69,321.98 L90.26,323.30 L90.83,324.58 L91.40,325.84 L91.97,327.06 L92.54,328.25 L93.11,329.41 L93.69,330.54 L94.26,331.65 L94.83,332.73 L95.40,333.79 L95.97,334.82 L96.54,335.83 L97.11,336.81 L97.68,337.77 L98.25,338.71 L98.82,339.63 L99.40,340.52 L99.97,341.40 L100.54,342.26 L101.11,343.10 L101.68,343.92 L102.25,344.72 L102.82,345.50 L103.39,346.27 L103.96,347.02 L104.53,347.75 L105.11,348.47 L105.68,349.17 L106.25,349.86 L106.82,350.53 L107.39,351.19 L107.96,351.83 L108.53,352.46 L109.10,353.08 L109.67,353.68 L110.24,354.27 L110.81,354.85 L111.39,355.42 L111.96,355.97 L112.53,356.51 L113.10,357.05 L113.67,357.57 L114.24,358.08 L114.81,358.58 L115.38,359.07 L115.95,359.55 L116.53,360.02 L117.10,360.48 L117.67,360.93 L118.24,361.37 L118.81,361.80 L119.38,362.23 L119.95,362.64 L120.52,363.05 L121.09,363.45 L121.66,363.84 L122.23,364.23 L122.81,364.60 L123.38,364.97 L123.95,365.33 L124.52,365.69 L125.09,366.03 L125.66,366.37 L126.23,366.71 L126.80,367.03 L127.37,367.35 L127.94,367.67 L128.52,367.98 L129.09,368.28 L129.66,368.58 L130.23,368.87 L130.80,369.15 L131.37,369.43 L131.94,369.71 L132.51,369.97 L133.08,370.24 L133.66,370.50 L134.23,370.75 L134.80,371.00 L135.37,371.24 L135.94,371.48 L136.51,371.72 L137.08,371.95 L137.65,372.18 L138.22,372.40 L138.79,372.62 L139.37,372.83 L139.94,373.04 L140.51,373.24 L141.08,373.45 L141.65,373.64 L142.22,373.84 L142.79,374.03 L143.36,374.22 L143.93,374.40 L144.50,374.58 L145.07,374.76 L145.65,374.93 L146.22,375.10 L146.79,375.27 L147.36,375.43 L147.93,375.59 L148.50,375.75 L149.07,375.91 L149.64,376.06 L150.21,376.21 L150.78,376.35 L151.36,376.50 L151.93,376.64 L152.50,376.78 L153.07,376.92 L153.64,377.05 L154.21,377.18 L154.78,377.31 L155.35,377.44 L155.92,377.56 L156.50,377.68 L157.07,377.80 L157.64,377.92 L158.21,378.04 L158.78,378.15 L159.35,378.26 L159.92,378.37 L160.49,378.48 L161.06,378.58 L161.63,378.69 L162.20,378.79 L162.78,378.89 L163.35,378.99 L163.92,379.08 L164.49,379.18 L165.06,379.27 L165.63,379.36 L166.20,379.45 L166.77,379.54 L167.34,379.62 L167.91,379.71 L168.49,379.79 L169.06,379.88 L169.63,379.96 L170.20,380.03 L170.77,380.11 L171.34,380.19 L171.91,380.26 L172.48,380.34 L173.05,380.41 L173.62,380.48 L174.20,380.55 L174.77,380.62 L175.34,380.69 L175.91,380.75 L176.48,380.82 L177.05,380.88 L177.62,380.94 L178.19,381.01 L178.76,381.07 L179.34,381.13 L179.91,381.18 L180.48,381.24 L181.05,381.30 L181.62,381.35 L182.19,381.41 L182.76,381.46 L183.33,381.51 L183.90,381.57 L184.47,381.62 L185.05,381.67 L185.62,381.72 L186.19,381.76 L186.76,381.81 L187.33,381.86 L187.90,381.90 L188.47,381.95 L189.04,381.99 L189.61,382.04 L190.18,382.08 L190.75,382.12 L191.33,382.16 L191.90,382.20 L192.47,382.24 L193.04,382.28 L193.61,382.32 L194.18,382.36 L194.75,382.39 L195.32,382.43 L195.89,382.47 L196.47,382.50 L197.04,382.54 L197.61,382.57 L198.18,382.60 L198.75,382.64 L199.32,382.67 L199.89,382.70 L200.46,382.73 L201.03,382.76 L201.60,382.79 L202.18,382.82 L202.75,382.85 L203.32,382.88 L203.89,382.91 L204.46,382.94 L205.03,382.97 L205.60,382.99 L206.17,383.02 L206.74,383.04 L207.31,383.07 L207.88,383.09 L208.46,383.12 L209.03,383.14 L209.60,383.17 L210.17,383.19 L210.74,383.21 L211.31,383.24 L211.88,383.26 L212.45,383.28 L213.02,383.30 L213.59,383.32 L214.17,383.34 L214.74,383.36 L215.31,383.38 L215.88,383.40 L216.45,383.42 L217.02,383.44 L217.59,383.46 L218.16,383.48 L218.73,383.50 L219.31,383.52 L219.88,383.53 L220.45,383.55 L221.02,383.57 L221.59,383.58 L222.16,383.60 L222.73,383.62 L223.30,383.63 L223.87,383.65 L224.44,383.66 L225.01,383.68 L225.59,383.69 L226.16,383.71 L226.73,383.72 L227.30,383.74 L227.87,383.75 L228.44,383.76 L229.01,383.78 L229.58,383.79 L230.15,383.80 L230.72,383.82 L231.30,383.83 L231.87,383.84 L232.44,383.85 L233.01,383.87 L233.58,383.88 L234.15,383.89 L234.72,383.90 L235.29,383.91 L235.86,383.92 L236.44,383.93 L237.01,383.94 L237.58,383.95 L238.15,383.97 L238.72,383.98 L239.29,383.99 L239.86,384.00 L240.43,384.00 L241.00,384.01 L241.57,384.02 L242.14,384.03 L242.72,384.04 L243.29,384.05 L243.86,384.06 L244.43,384.07 L245.00,384.08" fill="none" stroke="#2d5d88" stroke-width="1.4"/>
<path d="M73.70,261.30 L74.27,265.95 L74.84,269.83 L75.41,273.39 L75.98,276.73 L76.56,279.90 L77.13,282.90 L77.70,285.78 L78.27,288.53 L78.84,291.18 L79.41,293.72 L79.98,296.17 L80.55,298.53 L81.12,300.81 L81.69,303.01 L82.27,305.14 L82.84,307.21 L83.41,309.20 L83.98,311.13 L84.55,313.01 L85.12,314.82 L85.69,316.58 L86.26,318.29 L86.83,319.95 L87.40,321.56 L87.98,323.12 L88.55,324.64 L89.12,326.11 L89.69,327.55 L90.26,328.94 L90.83,330.29 L91.40,331.61 L91.97,332.89 L92.54,334.14 L93.11,335.35 L93.69,336.53 L94.26,337.68 L94.83,338.80 L95.40,339.89 L95.97,340.95 L96.54,341.98 L97.11,342.99 L97.68,343.97 L98.25,344.92 L98.82,345.85 L99.40,346.76 L99.97,347.64 L100.54,348.50 L101.11,349.34 L101.68,350.15 L102.25,350.95 L102.82,351.73 L103.39,352.48 L103.96,353.22 L104.53,353.94 L105.11,354.64 L105.68,355.33 L106.25,356.00 L106.82,356.65 L107.39,357.29 L107.96,357.91 L108.53,358.51 L109.10,359.10 L109.67,359.68 L110.24,360.24 L110.81,360.79 L111.39,361.32 L111.96,361.85 L112.53,362.36 L113.10,362.86 L113.67,363.34 L114.24,363.82 L114.81,364.28 L115.38,364.73 L115.95,365.17 L116.53,365.61 L117.10,366.03 L117.67,366.44 L118.24,366.84 L118.81,367.23 L119.38,367.62 L119.95,367.99 L120.52,368.36 L121.09,368.71 L121.66,369.06 L122.23,369.40 L122.81,369.74 L123.38,370.06 L123.95,370.38 L124.52,370.69 L125.09,370.99 L125.66,371.29 L126.23,371.58 L126.80,371.86 L127.37,372.14 L127.94,372.41 L128.52,372.67 L129.09,372.93 L129.66,373.18 L130.23,373.43 L130.80,373.67 L131.37,373.91 L131.94,374.14 L132.51,374.36 L133.08,374.58 L133.66,374.80 L134.23,375.01 L134.80,375.21 L135.37,375.42 L135.94,375.61 L136.51,375.80 L137.08,375.99 L137.65,376.18 L138.22,376.36 L138.79,376.53 L139.37,376.70 L139.94,376.87 L140.51,377.03 L141.08,377.20 L141.65,377.35 L142.22,377.51 L142.79,377.66 L143.36,377.80 L143.93,377.95 L144.50,378.09 L145.07,378.23 L145.65,378.36 L146.22,378.49 L146.79,378.62 L147.36,378.75 L147.93,378.87 L148.50,378.99 L149.07,379.11 L149.64,379.22 L150.21,379.34 L150.78,379.45 L151.36,379.55 L151.93,379.66 L152.50,379.76 L153.07,379.86 L153.64,379.96 L154.21,380.06 L154.78,380.15 L155.35,380.25 L155.92,380.34 L156.50,380.43 L157.07,380.51 L157.64,380.60 L158.21,380.68 L158.78,380.76 L159.35,380.84 L159.92,380.92 L160.49,381.00 L161.06,381.07 L161.63,381.14 L162.20,381.21 L162.78,381.28 L163.35,381.35 L163.92,381.42 L164.49,381.49 L165.06,381.55 L165.63,381.61 L166.20,381.67 L166.77,381.73 L167.34,381.79 L167.91,381.85 L168.49,381.91 L169.06,381.96 L169.63,382.02 L170.20,382.07 L170.77,382.12 L171.34,382.17 L171.91,382.22 L172.48,382.27 L173.05,382.32 L173.62,382.36 L174.20,382.41 L174.77,382.45 L175.34,382.50 L175.91,382.54 L176.48,382.58 L177.05,382.62 L177.62,382.66 L178.19,382.70 L178.76,382.74 L179.34,382.78 L179.91,382.82 L180.48,382.85 L181.05,382.89 L181.62,382.92 L182.19,382.96 L182.76,382.99 L183.33,383.02 L183.90,383.05 L184.47,383.09 L185.05,383.12 L185.62,383.15 L186.19,383.18 L186.76,383.20 L187.33,383.23 L187.90,383.26 L188.47,383.29 L189.04,383.31 L189.61,383.34 L190.18,383.36 L190.75,383.39 L191.33,383.41 L191.90,383.44 L192.47,383.46 L193.04,383.48 L193.61,383.51 L194.18,383.53 L194.75,383.55 L195.32,383.57 L195.89,383.59 L196.47,383.61 L197.04,383.63 L197.61,383.65 L198.18,383.67 L198.75,383.69 L199.32,383.71 L199.89,383.72 L200.46,383.74 L201.03,383.76 L201.60,383.78 L202.18,383.79 L202.75,383.81 L203.32,383.82 L203.89,383.84 L204.46,383.85 L205.03,383.87 L205.60,383.88 L206.17,383.90 L206.74,383.91 L207.31,383.93 L207.88,383.94 L208.46,383.95 L209.03,383.96 L209.60,383.98 L210.17,383.99 L210.74,384.00 L211.31,384.01 L211.88,384.03 L212.45,384.04 L213.02,384.05 L213.59,384.06 L214.17,384.07 L214.74,384.08 L215.31,384.09 L215.88,384.10 L216.45,384.11 L217.02,384.12 L217.59,384.13 L218.16,384.14 L218.73,384.15 L219.31,384.16 L219.88,384.17 L220.45,384.17 L221.02,384.18 L221.59,384.19 L222.16,384.20 L222.73,384.21 L223.30,384.21 L223.87,384.22 L224.44,384.23 L225.01,384.24 L225.59,384.24 L226.16,384.25 L226.73,384.26 L227.30,384.26 L227.87,384.27 L228.44,384.28 L229.01,384.28 L229.58,384.29 L230.15,384.30 L230.72,384.30 L231.30,384.31 L231.87,384.31 L232.44,384.32 L233.01,384.32 L233.58,384.33 L234.15,384.33 L234.72,384.34 L235.29,384.34 L235.86,384.35 L236.44,384.35 L237.01,384.36 L237.58,384.36 L238.15,384.37 L238.72,384.37 L239.29,384.38 L239.86,384.38 L240.43,384.39 L241.00,384.39 L241.57,384.39 L242.14,384.40 L242.72,384.40 L243.29,384.41 L243.86,384.41 L244.43,384.41 L245.00,384.42" fill="none" stroke="#a6d3e6" stroke-width="1.4"/>
<path d="M73.70,261.30 L74.27,267.24 L74.84,271.87 L75.41,276.01 L75.98,279.81 L76.56,283.35 L77.13,286.68 L77.70,289.83 L78.27,292.82 L78.84,295.66 L79.41,298.37 L79.98,300.97 L80.55,303.45 L81.12,305.84 L81.69,308.13 L82.27,310.33 L82.84,312.45 L83.41,314.48 L83.98,316.45 L84.55,318.35 L85.12,320.18 L85.69,321.94 L86.26,323.65 L86.83,325.30 L87.40,326.90 L87.98,328.44 L88.55,329.94 L89.12,331.39 L89.69,332.79 L90.26,334.15 L90.83,335.46 L91.40,336.74 L91.97,337.98 L92.54,339.18 L93.11,340.34 L93.69,341.47 L94.26,342.57 L94.83,343.63 L95.40,344.67 L95.97,345.67 L96.54,346.65 L97.11,347.59 L97.68,348.51 L98.25,349.41 L98.82,350.28 L99.40,351.13 L99.97,351.95 L100.54,352.75 L101.11,353.53 L101.68,354.28 L102.25,355.02 L102.82,355.74 L103.39,356.43 L103.96,357.11 L104.53,357.77 L105.11,358.42 L105.68,359.04 L106.25,359.65 L106.82,360.24 L107.39,360.82 L107.96,361.39 L108.53,361.93 L109.10,362.47 L109.67,362.99 L110.24,363.50 L110.81,363.99 L111.39,364.47 L111.96,364.94 L112.53,365.40 L113.10,365.84 L113.67,366.28 L114.24,366.70 L114.81,367.12 L115.38,367.52 L115.95,367.91 L116.53,368.29 L117.10,368.67 L117.67,369.03 L118.24,369.39 L118.81,369.73 L119.38,370.07 L119.95,370.40 L120.52,370.72 L121.09,371.04 L121.66,371.34 L122.23,371.64 L122.81,371.94 L123.38,372.22 L123.95,372.50 L124.52,372.77 L125.09,373.03 L125.66,373.29 L126.23,373.54 L126.80,373.79 L127.37,374.03 L127.94,374.27 L128.52,374.50 L129.09,374.72 L129.66,374.94 L130.23,375.15 L130.80,375.36 L131.37,375.56 L131.94,375.76 L132.51,375.96 L133.08,376.14 L133.66,376.33 L134.23,376.51 L134.80,376.69 L135.37,376.86 L135.94,377.03 L136.51,377.19 L137.08,377.35 L137.65,377.51 L138.22,377.67 L138.79,377.82 L139.37,377.96 L139.94,378.11 L140.51,378.25 L141.08,378.38 L141.65,378.52 L142.22,378.65 L142.79,378.78 L143.36,378.90 L143.93,379.02 L144.50,379.14 L145.07,379.26 L145.65,379.37 L146.22,379.48 L146.79,379.59 L147.36,379.70 L147.93,379.80 L148.50,379.91 L149.07,380.01 L149.64,380.10 L150.21,380.20 L150.78,380.29 L151.36,380.38 L151.93,380.47 L152.50,380.56 L153.07,380.64 L153.64,380.73 L154.21,380.81 L154.78,380.89 L155.35,380.97 L155.92,381.04 L156.50,381.12 L157.07,381.19 L157.64,381.26 L158.21,381.33 L158.78,381.40 L159.35,381.47 L159.92,381.53 L160.49,381.59 L161.06,381.66 L161.63,381.72 L162.20,381.78 L162.78,381.84 L163.35,381.89 L163.92,381.95 L164.49,382.00 L165.06,382.06 L165.63,382.11 L166.20,382.16 L166.77,382.21 L167.34,382.26 L167.91,382.31 L168.49,382.36 L169.06,382.40 L169.63,382.45 L170.20,382.49 L170.77,382.53 L171.34,382.58 L171.91,382.62 L172.48,382.66 L173.05,382.70 L173.62,382.74 L174.20,382.78 L174.77,382.81 L175.34,382.85 L175.91,382.88 L176.48,382.92 L177.05,382.95 L177.62,382.99 L178.19,383.02 L178.76,383.05 L179.34,383.08 L179.91,383.11 L180.48,383.14 L181.05,383.17 L181.62,383.20 L182.19,383.23 L182.76,383.26 L183.33,383.28 L183.90,383.31 L184.47,383.34 L185.05,383.36 L185.62,383.39 L186.19,383.41 L186.76,383.44 L187.33,383.46 L187.90,383.48 L188.47,383.50 L189.04,383.53 L189.61,383.55 L190.18,383.57 L190.75,383.59 L191.33,383.61 L191.90,383.63 L192.47,383.65 L193.04,383.67 L193.61,383.69 L194.18,383.70 L194.75,383.72 L195.32,383.74 L195.89,383.76 L196.47,383.77 L197.04,383.79 L197.61,383.81 L198.18,383.82 L198.75,383.84 L199.32,383.85 L199.89,383.87 L200.46,383.88 L201.03,383.90 L201.60,383.91 L202.18,383.92 L202.75,383.94 L203.32,383.95 L203.89,383.96 L204.46,383.97 L205.03,383.99 L205.60,384.00 L206.17,384.01 L206.74,384.02 L207.31,384.03 L207.88,384.04 L208.46,384.06 L209.03,384.07 L209.60,384.08 L210.17,384.09 L210.74,384.10 L211.31,384.11 L211.88,384.12 L212.45,384.13 L213.02,384.13 L213.59,384.14 L214.17,384.15 L214.74,384.16 L215.31,384.17 L215.88,384.18 L216.45,384.19 L217.02,384.19 L217.59,384.20 L218.16,384.21 L218.73,384.22 L219.31,384.23 L219.88,384.23 L220.45,384.24 L221.02,384.25 L221.59,384.25 L222.16,384.26 L222.73,384.27 L223.30,384.27 L223.87,384.28 L224.44,384.29 L225.01,384.29 L225.59,384.30 L226.16,384.30 L226.73,384.31 L227.30,384.31 L227.87,384.32 L228.44,384.33 L229.01,384.33 L229.58,384.34 L230.15,384.34 L230.72,384.35 L231.30,384.35 L231.87,384.36 L232.44,384.36 L233.01,384.36 L233.58,384.37 L234.15,384.37 L234.72,384.38 L235.29,384.38 L235.86,384.39 L236.44,384.39 L237.01,384.39 L237.58,384.40 L238.15,384.40 L238.72,384.41 L239.29,384.41 L239.86,384.41 L240.43,384.42 L241.00,384.42 L241.57,384.42 L242.14,384.43 L242.72,384.43 L243.29,384.43 L243.86,384.44 L244.43,384.44 L245.00,384.44" fill="none" stroke="#e3a5b8" stroke-width="1.4"/>
<path d="M73.70,261.30 L74.27,268.09 L74.84,273.51 L75.41,278.36 L75.98,282.83 L76.56,286.98 L77.13,290.86 L77.70,294.52 L78.27,297.98 L78.84,301.26 L79.41,304.37 L79.98,307.33 L80.55,310.15 L81.12,312.84 L81.69,315.41 L82.27,317.87 L82.84,320.22 L83.41,322.48 L83.98,324.64 L84.55,326.70 L85.12,328.69 L85.69,330.60 L86.26,332.43 L86.83,334.19 L87.40,335.88 L87.98,337.51 L88.55,339.07 L89.12,340.58 L89.69,342.03 L90.26,343.42 L90.83,344.77 L91.40,346.07 L91.97,347.32 L92.54,348.52 L93.11,349.68 L93.69,350.80 L94.26,351.88 L94.83,352.92 L95.40,353.93 L95.97,354.90 L96.54,355.84 L97.11,356.74 L97.68,357.62 L98.25,358.46 L98.82,359.28 L99.40,360.06 L99.97,360.83 L100.54,361.56 L101.11,362.27 L101.68,362.96 L102.25,363.63 L102.82,364.27 L103.39,364.89 L103.96,365.49 L104.53,366.07 L105.11,366.64 L105.68,367.18 L106.25,367.71 L106.82,368.22 L107.39,368.71 L107.96,369.19 L108.53,369.65 L109.10,370.10 L109.67,370.53 L110.24,370.95 L110.81,371.36 L111.39,371.75 L111.96,372.14 L112.53,372.50 L113.10,372.86 L113.67,373.21 L114.24,373.54 L114.81,373.87 L115.38,374.18 L115.95,374.49 L116.53,374.79 L117.10,375.07 L117.67,375.35 L118.24,375.62 L118.81,375.88 L119.38,376.14 L119.95,376.38 L120.52,376.62 L121.09,376.85 L121.66,377.07 L122.23,377.29 L122.81,377.50 L123.38,377.71 L123.95,377.90 L124.52,378.10 L125.09,378.28 L125.66,378.46 L126.23,378.64 L126.80,378.81 L127.37,378.97 L127.94,379.13 L128.52,379.29 L129.09,379.44 L129.66,379.59 L130.23,379.73 L130.80,379.87 L131.37,380.00 L131.94,380.13 L132.51,380.26 L133.08,380.38 L133.66,380.50 L134.23,380.61 L134.80,380.72 L135.37,380.83 L135.94,380.94 L136.51,381.04 L137.08,381.14 L137.65,381.24 L138.22,381.33 L138.79,381.42 L139.37,381.51 L139.94,381.60 L140.51,381.68 L141.08,381.76 L141.65,381.84 L142.22,381.92 L142.79,381.99 L143.36,382.06 L143.93,382.13 L144.50,382.20 L145.07,382.27 L145.65,382.33 L146.22,382.39 L146.79,382.45 L147.36,382.51 L147.93,382.57 L148.50,382.63 L149.07,382.68 L149.64,382.73 L150.21,382.78 L150.78,382.83 L151.36,382.88 L151.93,382.93 L152.50,382.97 L153.07,383.02 L153.64,383.06 L154.21,383.10 L154.78,383.14 L155.35,383.18 L155.92,383.22 L156.50,383.26 L157.07,383.29 L157.64,383.33 L158.21,383.36 L158.78,383.40 L159.35,383.43 L159.92,383.46 L160.49,383.49 L161.06,383.52 L161.63,383.55 L162.20,383.58 L162.78,383.61 L163.35,383.63 L163.92,383.66 L164.49,383.68 L165.06,383.71 L165.63,383.73 L166.20,383.76 L166.77,383.78 L167.34,383.80 L167.91,383.82 L168.49,383.84 L169.06,383.86 L169.63,383.88 L170.20,383.90 L170.77,383.92 L171.34,383.94 L171.91,383.96 L172.48,383.97 L173.05,383.99 L173.62,384.01 L174.20,384.02 L174.77,384.04 L175.34,384.05 L175.91,384.07 L176.48,384.08 L177.05,384.09 L177.62,384.11 L178.19,384.12 L178.76,384.13 L179.34,384.14 L179.91,384.16 L180.48,384.17 L181.05,384.18 L181.62,384.19 L182.19,384.20 L182.76,384.21 L183.33,384.22 L183.90,384.23 L184.47,384.24 L185.05,384.25 L185.62,384.26 L186.19,384.27 L186.76,384.28 L187.33,384.29 L187.90,384.29 L188.47,384.30 L189.04,384.31 L189.61,384.32 L190.18,384.32 L190.75,384.33 L191.33,384.34 L191.90,384.35 L192.47,384.35 L193.04,384.36 L193.61,384.36 L194.18,384.37 L194.75,384.38 L195.32,384.38 L195.89,384.39 L196.47,384.39 L197.04,384.40 L197.61,384.40 L198.18,384.41 L198.75,384.41 L199.32,384.42 L199.89,384.42 L200.46,384.43 L201.03,384.43 L201.60,384.44 L202.18,384.44 L202.75,384.45 L203.32,384.45 L203.89,384.45 L204.46,384.46 L205.03,384.46 L205.60,384.46 L206.17,384.47 L206.74,384.47 L207.31,384.47 L207.88,384.48 L208.46,384.48 L209.03,384.48 L209.60,384.49 L210.17,384.49 L210.74,384.49 L211.31,384.50 L211.88,384.50 L212.45,384.50 L213.02,384.50 L213.59,384.51 L214.17,384.51 L214.74,384.51 L215.31,384.51 L215.88,384.51 L216.45,384.52 L217.02,384.52 L217.59,384.52 L218.16,384.52 L218.73,384.52 L219.31,384.53 L219.88,384.53 L220.45,384.53 L221.02,384.53 L221.59,384.53 L222.16,384.54 L222.73,384.54 L223.30,384.54 L223.87,384.54 L224.44,384.54 L225.01,384.54 L225.59,384.54 L226.16,384.55 L226.73,384.55 L227.30,384.55 L227.87,384.55 L228.44,384.55 L229.01,384.55 L229.58,384.55 L230.15,384.55 L230.72,384.56 L231.30,384.56 L231.87,384.56 L232.44,384.56 L233.01,384.56 L233.58,384.56 L234.15,384.56 L234.72,384.56 L235.29,384.56 L235.86,384.57 L236.44,384.57 L237.01,384.57 L237.58,384.57 L238.15,384.57 L238.72,384.57 L239.29,384.57 L239.86,384.57 L240.43,384.57 L241.00,384.57 L241.57,384.57 L242.14,384.57 L242.72,384.57 L243.29,384.57 L243.86,384.58 L244.43,384.58 L245.00,384.58" fill="none" stroke="#c4224a" stroke-width="1.4"/>
<path d="M73.70,261.30 L74.27,270.78 L74.84,279.53 L75.41,287.61 L75.98,295.07 L76.56,301.95 L77.13,308.30 L77.70,314.17 L78.27,319.58 L78.84,324.58 L79.41,329.20 L79.98,333.46 L80.55,337.39 L81.12,341.02 L81.69,344.37 L82.27,347.46 L82.84,350.32 L83.41,352.95 L83.98,355.39 L84.55,357.63 L85.12,359.71 L85.69,361.62 L86.26,363.39 L86.83,365.02 L87.40,366.52 L87.98,367.91 L88.55,369.20 L89.12,370.38 L89.69,371.47 L90.26,372.48 L90.83,373.41 L91.40,374.27 L91.97,375.07 L92.54,375.80 L93.11,376.48 L93.69,377.10 L94.26,377.68 L94.83,378.21 L95.40,378.70 L95.97,379.16 L96.54,379.57 L97.11,379.96 L97.68,380.32 L98.25,380.65 L98.82,380.95 L99.40,381.23 L99.97,381.49 L100.54,381.73 L101.11,381.95 L101.68,382.15 L102.25,382.34 L102.82,382.52 L103.39,382.68 L103.96,382.82 L104.53,382.96 L105.11,383.09 L105.68,383.20 L106.25,383.31 L106.82,383.41 L107.39,383.50 L107.96,383.59 L108.53,383.66 L109.10,383.74 L109.67,383.80 L110.24,383.86 L110.81,383.92 L111.39,383.97 L111.96,384.02 L112.53,384.06 L113.10,384.11 L113.67,384.14 L114.24,384.18 L114.81,384.21 L115.38,384.24 L115.95,384.27 L116.53,384.29 L117.10,384.32 L117.67,384.34 L118.24,384.36 L118.81,384.38 L119.38,384.40 L119.95,384.41 L120.52,384.43 L121.09,384.44 L121.66,384.45 L122.23,384.46 L122.81,384.47 L123.38,384.48 L123.95,384.49 L124.52,384.50 L125.09,384.51 L125.66,384.52 L126.23,384.52 L126.80,384.53 L127.37,384.53 L127.94,384.54 L128.52,384.54 L129.09,384.55 L129.66,384.55 L130.23,384.56 L130.80,384.56 L131.37,384.56 L131.94,384.56 L132.51,384.57 L133.08,384.57 L133.66,384.57 L134.23,384.57 L134.80,384.58 L135.37,384.58 L135.94,384.58 L136.51,384.58 L137.08,384.58 L137.65,384.58 L138.22,384.59 L138.79,384.59 L139.37,384.59 L139.94,384.59 L140.51,384.59 L141.08,384.59 L141.65,384.59 L142.22,384.59 L142.79,384.59 L143.36,384.59 L143.93,384.59 L144.50,384.59 L145.07,384.59 L145.65,384.59 L146.22,384.60 L146.79,384.60 L147.36,384.60 L147.93,384.60 L148.50,384.60 L149.07,384.60 L149.64,384.60 L150.21,384.60 L150.78,384.60 L151.36,384.60 L151.93,384.60 L152.50,384.60 L153.07,384.60 L153.64,384.60 L154.21,384.60 L154.78,384.60 L155.35,384.60 L155.92,384.60 L156.50,384.60 L157.07,384.60 L157.64,384.60 L158.21,384.60 L158.78,384.60 L159.35,384.60 L159.92,384.60 L160.49,384.60 L161.06,384.60 L161.63,384.60 L162.20,384.60 L162.78,384.60 L163.35,384.60 L163.92,384.60 L164.49,384.60 L165.06,384.60 L165.63,384.60 L166.20,384.60 L166.77,384.60 L167.34,384.60 L167.91,384.60 L168.49,384.60 L169.06,384.60 L169.63,384.60 L170.20,384.60 L170.77,384.60 L171.34,384.60 L171.91,384.60 L172.48,384.60 L173.05,384.60 L173.62,384.60 L174.20,384.60 L174.77,384.60 L175.34,384.60 L175.91,384.60 L176.48,384.60 L177.05,384.60 L177.62,384.60 L178.19,384.60 L178.76,384.60 L179.34,384.60 L179.91,384.60 L180.48,384.60 L181.05,384.60 L181.62,384.60 L182.19,384.60 L182.76,384.60 L183.33,384.60 L183.90,384.60 L184.47,384.60 L185.05,384.60 L185.62,384.60 L186.19,384.60 L186.76,384.60 L187.33,384.60 L187.90,384.60 L188.47,384.60 L189.04,384.60 L189.61,384.60 L190.18,384.60 L190.75,384.60 L191.33,384.60 L191.90,384.60 L192.47,384.60 L193.04,384.60 L193.61,384.60 L194.18,384.60 L194.75,384.60 L195.32,384.60 L195.89,384.60 L196.47,384.60 L197.04,384.60 L197.61,384.60 L198.18,384.60 L198.75,384.60 L199.32,384.60 L199.89,384.60 L200.46,384.60 L201.03,384.60 L201.60,384.60 L202.18,384.60 L202.75,384.60 L203.32,384.60 L203.89,384.60 L204.46,384.60 L205.03,384.60 L205.60,384.60 L206.17,384.60 L206.74,384.60 L207.31,384.60 L207.88,384.60 L208.46,384.60 L209.03,384.60 L209.60,384.60 L210.17,384.60 L210.74,384.60 L211.31,384.60 L211.88,384.60 L212.45,384.60 L213.02,384.60 L213.59,384.60 L214.17,384.60 L214.74,384.60 L215.31,384.60 L215.88,384.60 L216.45,384.60 L217.02,384.60 L217.59,384.60 L218.16,384.60 L218.73,384.60 L219.31,384.60 L219.88,384.60 L220.45,384.60 L221.02,384.60 L221.59,384.60 L222.16,384.60 L222.73,384.60 L223.30,384.60 L223.87,384.60 L224.44,384.60 L225.01,384.60 L225.59,384.60 L226.16,384.60 L226.73,384.60 L227.30,384.60 L227.87,384.60 L228.44,384.60 L229.01,384.60 L229.58,384.60 L230.15,384.60 L230.72,384.60 L231.30,384.60 L231.87,384.60 L232.44,384.60 L233.01,384.60 L233.58,384.60 L234.15,384.60 L234.72,384.60 L235.29,384.60 L235.86,384.60 L236.44,384.60 L237.01,384.60 L237.58,384.60 L238.15,384.60 L238.72,384.60 L239.29,384.60 L239.86,384.60 L240.43,384.60 L241.00,384.60 L241.57,384.60 L242.14,384.60 L242.72,384.60 L243.29,384.60 L243.86,384.60 L244.43,384.60 L245.00,384.60" fill="none" stroke="#5a3c26" stroke-width="1.4"/>
<text x="278.2" y="246.8" class="pl">D</text>
<rect x="341.60" y="261.20" width="21.5" height="26.83" fill="#bdbdc1"/>
<rect x="341.60" y="288.03" width="21.5" height="1.57" fill="#0c6b58"/>
<rect x="341.60" y="289.60" width="21.5" height="9.68" fill="#33a9df"/>
<rect x="341.60" y="299.28" width="21.5" height="91.02" fill="#c8102e"/>
<rect x="369.22" y="261.20" width="21.5" height="54.96" fill="#bdbdc1"/>
<rect x="369.22" y="316.16" width="21.5" height="3.78" fill="#0c6b58"/>
<rect x="369.22" y="319.94" width="21.5" height="20.10" fill="#33a9df"/>
<rect x="369.22" y="340.04" width="21.5" height="50.26" fill="#c8102e"/>
<rect x="396.84" y="261.20" width="21.5" height="69.44" fill="#bdbdc1"/>
<rect x="396.84" y="330.64" width="21.5" height="4.24" fill="#0c6b58"/>
<rect x="396.84" y="334.88" width="21.5" height="24.81" fill="#33a9df"/>
<rect x="396.84" y="359.68" width="21.5" height="30.62" fill="#c8102e"/>
<rect x="424.46" y="261.20" width="21.5" height="76.81" fill="#bdbdc1"/>
<rect x="424.46" y="338.01" width="21.5" height="4.61" fill="#0c6b58"/>
<rect x="424.46" y="342.63" width="21.5" height="28.22" fill="#33a9df"/>
<rect x="424.46" y="370.84" width="21.5" height="19.46" fill="#c8102e"/>
<rect x="452.08" y="261.20" width="21.5" height="85.02" fill="#bdbdc1"/>
<rect x="452.08" y="346.22" width="21.5" height="5.53" fill="#0c6b58"/>
<rect x="452.08" y="351.75" width="21.5" height="32.00" fill="#33a9df"/>
<rect x="452.08" y="383.75" width="21.5" height="6.55" fill="#c8102e"/>
<rect x="479.70" y="261.20" width="21.5" height="89.72" fill="#bdbdc1"/>
<rect x="479.70" y="350.92" width="21.5" height="5.99" fill="#0c6b58"/>
<rect x="479.70" y="356.92" width="21.5" height="33.38" fill="#33a9df"/>
<path d="M333.5,255.5 V390.3 H510.3" fill="none" stroke="#000" stroke-width="1.3"/>
<line x1="329.00" y1="390.30" x2="333.5" y2="390.30" stroke="#000" stroke-width="1.3"/>
<text x="323.60" y="394.50" text-anchor="end" class="tl">0</text>
<line x1="329.00" y1="358.03" x2="333.5" y2="358.03" stroke="#000" stroke-width="1.3"/>
<text x="323.60" y="362.23" text-anchor="end" class="tl">350</text>
<line x1="329.00" y1="325.75" x2="333.5" y2="325.75" stroke="#000" stroke-width="1.3"/>
<text x="323.60" y="329.95" text-anchor="end" class="tl">700</text>
<line x1="329.00" y1="293.48" x2="333.5" y2="293.48" stroke="#000" stroke-width="1.3"/>
<text x="323.60" y="297.68" text-anchor="end" class="tl">1050</text>
<line x1="329.00" y1="261.20" x2="333.5" y2="261.20" stroke="#000" stroke-width="1.3"/>
<text x="323.60" y="265.40" text-anchor="end" class="tl">1400</text>
<line x1="352.35" y1="390.3" x2="352.35" y2="395.00" stroke="#000" stroke-width="1.3"/>
<line x1="379.97" y1="390.3" x2="379.97" y2="395.00" stroke="#000" stroke-width="1.3"/>
<line x1="407.59" y1="390.3" x2="407.59" y2="395.00" stroke="#000" stroke-width="1.3"/>
<line x1="435.21" y1="390.3" x2="435.21" y2="395.00" stroke="#000" stroke-width="1.3"/>
<line x1="462.83" y1="390.3" x2="462.83" y2="395.00" stroke="#000" stroke-width="1.3"/>
<line x1="490.45" y1="390.3" x2="490.45" y2="395.00" stroke="#000" stroke-width="1.3"/>
<text transform="translate(356.25,399.70) rotate(-90)" text-anchor="end" class="tl" style="font-size:12.1px">AT 100%</text>
<text transform="translate(383.87,399.70) rotate(-90)" text-anchor="end" class="tl" style="font-size:12.1px">AT 30%</text>
<text transform="translate(411.49,399.70) rotate(-90)" text-anchor="end" class="tl" style="font-size:12.1px">AT 15%</text>
<text transform="translate(439.11,399.70) rotate(-90)" text-anchor="end" class="tl" style="font-size:12.1px">AT 9%</text>
<text transform="translate(466.73,399.70) rotate(-90)" text-anchor="end" class="tl" style="font-size:12.1px">AT 3%</text>
<text transform="translate(494.35,399.70) rotate(-90)" text-anchor="end" class="tl" style="font-size:12.1px">no AT</text>
<text transform="translate(288.50,323.20) rotate(-90)" text-anchor="middle" class="tt" textLength="104.2" lengthAdjust="spacingAndGlyphs">Thrombin complex (nM)</text>
<rect x="333.5" y="461.3" width="13.8" height="6.8" fill="#bdbdc1"/>
<text x="351.10" y="468.20" class="lg2">IIa-A2M</text>
<rect x="401.2" y="461.3" width="13.8" height="6.8" fill="#33a9df"/>
<text x="418.80" y="468.20" class="lg2">IIa-HC</text>
<rect x="333.5" y="478.9" width="13.8" height="6.8" fill="#0c6b58"/>
<text x="351.10" y="485.80" class="lg2">IIa-A1PI</text>
<rect x="401.2" y="478.9" width="13.8" height="6.8" fill="#c8102e"/>
<text x="418.80" y="485.80" class="lg2">IIa-AT</text>
<rect x="0.5" y="0.5" width="519" height="494" fill="none" stroke="#000" stroke-width="1.2"/>
</svg>
</body></html>
